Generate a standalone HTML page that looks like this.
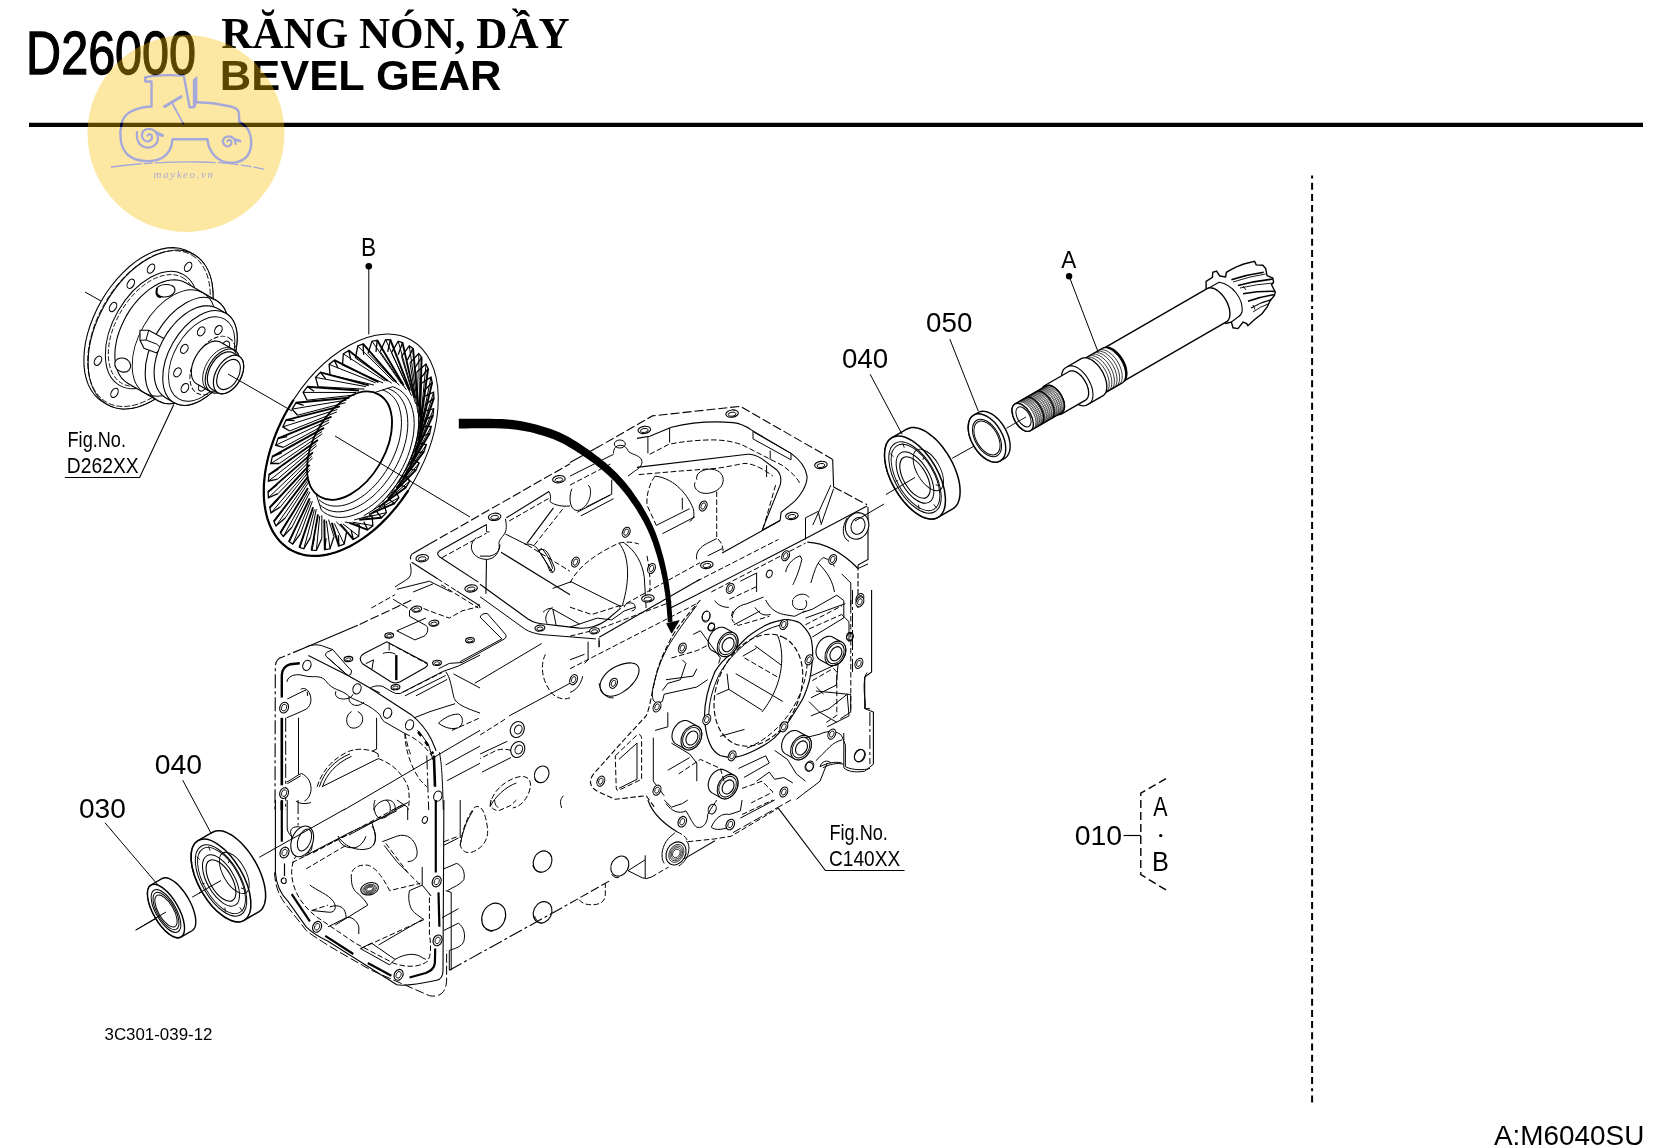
<!DOCTYPE html>
<html><head><meta charset="utf-8"><style>
html,body{margin:0;padding:0;background:#fff;overflow:hidden}
svg{display:block;will-change:transform}
</style></head><body>
<svg width="1658" height="1148" viewBox="0 0 1658 1148">
<line x1="29" y1="124.8" x2="1643" y2="124.8" stroke="#000" stroke-width="4.2"/>
<line x1="1312.1" y1="175.5" x2="1312.1" y2="1104" stroke="#000" stroke-width="2" stroke-dasharray="3 4.2 7 4.2 7 4.2 7 4.2 7 4.2 7 4.2 7 4.2 7 4.2 7 4.2 7 4.2 7 4.2 7 4.2" />
<path d="M85 292 L101 301" fill="none" stroke="#000" stroke-width="1.0"/>
<path d="M103 402 L98.5 398.9 L94.6 395 L91.2 390.3 L88.4 384.9 L86.3 379 L84.8 372.4 L84 365.4 L83.9 357.9 L84.4 350.1 L85.6 342 L87.5 333.8 L90.1 325.5 L93.3 317.2 L97 309 L101.3 301 L106 293.3 L111.3 286 L116.9 279.1 L122.8 272.8 L128.9 267 L135.3 261.9 L141.8 257.5 L148.3 253.9 L154.8 251.1 L161.3 249.1 L167.5 247.9 L173.5 247.6 L179.3 248.2 L184.6 249.7 L189.6 252 L193.9 254.5 L198.4 257.6 L202.3 261.5 L205.7 266.2 L208.5 271.6 L210.6 277.5 L212.1 284.1 L212.9 291.1 L213 298.6 L212.5 306.4 L211.2 314.5 L209.3 322.7 L206.8 331 L203.6 339.3 L199.9 347.5 L195.6 355.5 L190.8 363.2 L185.6 370.5 L180 377.4 L174.1 383.7 L167.9 389.5 L161.6 394.6 L155.1 399 L148.5 402.6 L142 405.4 L135.6 407.4 L129.3 408.6 L123.3 408.9 L117.6 408.3 L112.2 406.8 L107.3 404.5Z" fill="#fff" stroke="#000" stroke-width="1.1"/>
<ellipse cx="150.6" cy="329.5" rx="86.6" ry="52" transform="rotate(-60 150.6 329.5)" fill="#fff" stroke="#000" stroke-width="1.1"/>
<ellipse cx="149" cy="328.6" rx="85" ry="51" transform="rotate(-60 149 328.6)" fill="none" stroke="#000" stroke-width="0.8" stroke-dasharray="6 2"/>
<ellipse cx="151.5" cy="330" rx="64" ry="38.4" transform="rotate(-60 151.5 330)" fill="none" stroke="#000" stroke-width="1.0"/>
<ellipse cx="152.3" cy="330.5" rx="61" ry="36.6" transform="rotate(-60 152.3 330.5)" fill="none" stroke="#000" stroke-width="0.8" stroke-dasharray="5 2"/>
<ellipse cx="188.1" cy="266.9" rx="5" ry="3.2" transform="rotate(-60 188.1 266.9)" fill="#fff" stroke="#000" stroke-width="1.1"/>
<ellipse cx="151" cy="268.6" rx="5" ry="3.2" transform="rotate(-60 151 268.6)" fill="#fff" stroke="#000" stroke-width="1.1"/>
<ellipse cx="130.8" cy="283.8" rx="5" ry="3.2" transform="rotate(-60 130.8 283.8)" fill="#fff" stroke="#000" stroke-width="1.1"/>
<ellipse cx="113" cy="307" rx="5" ry="3.2" transform="rotate(-60 113 307)" fill="#fff" stroke="#000" stroke-width="1.1"/>
<ellipse cx="98" cy="360.7" rx="5" ry="3.2" transform="rotate(-60 98 360.7)" fill="#fff" stroke="#000" stroke-width="1.1"/>
<ellipse cx="114.5" cy="392.9" rx="5" ry="3.2" transform="rotate(-60 114.5 392.9)" fill="#fff" stroke="#000" stroke-width="1.1"/>
<path d="M127.7 383.2 L124.7 381.1 L122 378.5 L119.8 375.4 L117.9 371.8 L116.5 367.8 L115.5 363.4 L114.9 358.7 L114.9 353.7 L115.2 348.4 L116.1 343 L117.3 337.5 L119 332 L121.2 326.4 L123.7 320.9 L126.5 315.6 L129.7 310.4 L133.2 305.5 L137 300.9 L140.9 296.7 L145.1 292.8 L149.3 289.4 L153.7 286.5 L158 284 L162.4 282.1 L166.7 280.8 L170.9 280 L174.9 279.9 L178.8 280.3 L182.4 281.2 L185.7 282.8 L216 300.3 L219 302.4 L221.6 305 L223.9 308.1 L225.7 311.7 L227.2 315.7 L228.1 320.1 L228.7 324.8 L228.8 329.8 L228.4 335.1 L227.6 340.5 L226.3 346 L224.6 351.5 L222.5 357.1 L220 362.6 L217.1 367.9 L213.9 373.1 L210.4 378 L206.7 382.6 L202.7 386.8 L198.6 390.7 L194.3 394.1 L190 397 L185.6 399.5 L181.2 401.4 L176.9 402.7 L172.7 403.5 L168.7 403.6 L164.9 403.2 L161.3 402.3 L158 400.7Z" fill="#fff" stroke="#000" stroke-width="1.1"/>
<ellipse cx="187" cy="350.5" rx="58" ry="34.8" transform="rotate(-60 187 350.5)" fill="#fff" stroke="#000" stroke-width="1.1"/>
<ellipse cx="174" cy="343" rx="58" ry="34.8" transform="rotate(-60 174 343)" fill="none" stroke="#000" stroke-width="0.9"/>
<path d="M157 288 C160 284 170 283 174 287 C177 292 172 297 164 297 C158 297 155 293 157 288Z" fill="#fff" stroke="#000" stroke-width="1.1"/>
<path d="M157 288 L156.5 293 C157 296 159 297 161 297" fill="none" stroke="#000" stroke-width="2.0"/>
<path d="M115 362 C118 356 127 357 130 363 C132 369 128 373 122 372 C117 371 114 367 115 362Z" fill="#fff" stroke="#000" stroke-width="1.1"/>
<path d="M140 330.2 L148.7 330.2 L164.4 338.8 L161.2 348.2 L156.5 352.9 L144 348.2 L140 340.3 Z" fill="#fff" stroke="#000" stroke-width="1.1"/>
<path d="M148.7 330.2 L146 340 L140 340.3 M146 340 L156.5 344 L161.2 348.2" fill="none" stroke="#000" stroke-width="1.0"/>
<path d="M165.5 397.7 L162.8 395.8 L160.5 393.5 L158.5 390.7 L156.8 387.5 L155.6 384 L154.7 380.1 L154.2 375.9 L154.1 371.4 L154.4 366.7 L155.2 361.9 L156.3 357 L157.8 352.1 L159.7 347.1 L161.9 342.3 L164.5 337.5 L167.3 332.9 L170.4 328.6 L173.8 324.5 L177.3 320.7 L181 317.3 L184.8 314.2 L188.6 311.6 L192.5 309.4 L196.4 307.7 L200.2 306.6 L204 305.9 L207.6 305.7 L211 306.1 L214.2 306.9 L217.1 308.3 L225.8 313.3 L228.4 315.2 L230.8 317.5 L232.8 320.3 L234.4 323.5 L235.7 327 L236.6 330.9 L237.1 335.1 L237.2 339.6 L236.8 344.3 L236.1 349.1 L234.9 354 L233.4 358.9 L231.6 363.9 L229.3 368.7 L226.8 373.5 L223.9 378.1 L220.8 382.4 L217.5 386.5 L214 390.3 L210.3 393.7 L206.5 396.8 L202.6 399.4 L198.7 401.6 L194.8 403.3 L191 404.4 L187.3 405.1 L183.7 405.3 L180.3 404.9 L177.1 404.1 L174.2 402.7Z" fill="#fff" stroke="#000" stroke-width="1.1"/>
<ellipse cx="200" cy="358" rx="51.6" ry="31" transform="rotate(-60 200 358)" fill="#fff" stroke="#000" stroke-width="1.1"/>
<ellipse cx="201.7" cy="359" rx="46" ry="27.6" transform="rotate(-60 201.7 359)" fill="none" stroke="#000" stroke-width="0.9"/>
<ellipse cx="218.4" cy="330" rx="4.8" ry="3.4" transform="rotate(-60 218.4 330)" fill="#fff" stroke="#000" stroke-width="1.1"/>
<ellipse cx="201.2" cy="331.4" rx="4.8" ry="3.4" transform="rotate(-60 201.2 331.4)" fill="#fff" stroke="#000" stroke-width="1.1"/>
<ellipse cx="184.3" cy="348.9" rx="4.8" ry="3.4" transform="rotate(-60 184.3 348.9)" fill="#fff" stroke="#000" stroke-width="1.1"/>
<ellipse cx="177.5" cy="372.4" rx="4.8" ry="3.4" transform="rotate(-60 177.5 372.4)" fill="#fff" stroke="#000" stroke-width="1.1"/>
<ellipse cx="184.9" cy="388" rx="4.8" ry="3.4" transform="rotate(-60 184.9 388)" fill="#fff" stroke="#000" stroke-width="1.1"/>
<ellipse cx="202.2" cy="386.6" rx="4.8" ry="3.4" transform="rotate(-60 202.2 386.6)" fill="#fff" stroke="#000" stroke-width="1.1"/>
<ellipse cx="225.8" cy="345.6" rx="4.8" ry="3.4" transform="rotate(-60 225.8 345.6)" fill="#fff" stroke="#000" stroke-width="1.1"/>
<ellipse cx="213" cy="365.5" rx="32" ry="19.2" transform="rotate(-60 213 365.5)" fill="none" stroke="#000" stroke-width="0.9" stroke-dasharray="5 2"/>
<path d="M196.6 383.8 L195.4 382.9 L194.3 381.8 L193.4 380.5 L192.6 379.1 L192 377.4 L191.6 375.6 L191.4 373.6 L191.3 371.6 L191.5 369.4 L191.8 367.2 L192.3 364.9 L193.1 362.6 L193.9 360.3 L195 358 L196.2 355.8 L197.5 353.7 L198.9 351.6 L200.5 349.7 L202.1 348 L203.8 346.4 L205.6 345 L207.4 343.7 L209.2 342.7 L211 342 L212.8 341.4 L214.5 341.1 L216.2 341 L217.8 341.2 L219.3 341.6 L220.6 342.2 L234.5 350.2 L235.7 351.1 L236.8 352.2 L237.7 353.5 L238.5 354.9 L239.1 356.6 L239.5 358.4 L239.7 360.4 L239.8 362.4 L239.6 364.6 L239.3 366.8 L238.8 369.1 L238 371.4 L237.2 373.7 L236.1 376 L234.9 378.2 L233.6 380.3 L232.2 382.4 L230.6 384.3 L229 386 L227.3 387.6 L225.5 389 L223.7 390.3 L221.9 391.3 L220.1 392 L218.3 392.6 L216.6 392.9 L214.9 393 L213.3 392.8 L211.8 392.4 L210.5 391.8Z" fill="#fff" stroke="#000" stroke-width="1.1"/>
<ellipse cx="222.5" cy="371" rx="24" ry="14.4" transform="rotate(-60 222.5 371)" fill="#fff" stroke="#000" stroke-width="1.1"/>
<ellipse cx="219.9" cy="369.5" rx="24" ry="14.4" transform="rotate(-60 219.9 369.5)" fill="none" stroke="#000" stroke-width="0.8"/>
<path d="M212 389.2 L210.9 388.4 L209.9 387.5 L209.1 386.3 L208.4 385.1 L207.9 383.6 L207.6 382 L207.4 380.3 L207.3 378.5 L207.5 376.6 L207.8 374.6 L208.2 372.6 L208.9 370.6 L209.6 368.6 L210.5 366.6 L211.6 364.7 L212.7 362.8 L214 361.1 L215.3 359.4 L216.8 357.8 L218.3 356.5 L219.8 355.2 L221.4 354.1 L223 353.3 L224.6 352.6 L226.1 352.1 L227.6 351.8 L229.1 351.8 L230.5 351.9 L231.8 352.3 L233 352.8 L239 356.3 L240.1 357.1 L241.1 358 L241.9 359.2 L242.6 360.4 L243.1 361.9 L243.4 363.5 L243.6 365.2 L243.7 367 L243.5 368.9 L243.2 370.9 L242.8 372.9 L242.2 374.9 L241.4 376.9 L240.5 378.9 L239.5 380.8 L238.3 382.7 L237 384.4 L235.7 386.1 L234.2 387.7 L232.7 389 L231.2 390.3 L229.6 391.4 L228 392.2 L226.5 392.9 L224.9 393.4 L223.4 393.7 L221.9 393.7 L220.5 393.6 L219.2 393.2 L218 392.7Z" fill="#fff" stroke="#000" stroke-width="1.2"/>
<ellipse cx="228.5" cy="374.5" rx="21" ry="12.6" transform="rotate(-60 228.5 374.5)" fill="#fff" stroke="#000" stroke-width="1.2"/>
<ellipse cx="228.5" cy="374.5" rx="16.5" ry="9.9" transform="rotate(-60 228.5 374.5)" fill="none" stroke="#000" stroke-width="1.1"/>
<path d="M173.8 404.6 L139.6 477.5 L64.8 477.5" fill="none" stroke="#000" stroke-width="1.1"/>
<text x="67.55" y="446.9" font-family="Liberation Sans" font-weight="normal" font-size="21.74" fill="#000" transform="translate(67.55 0) scale(0.834 1) translate(-67.55 0)">Fig.No.</text>
<text x="66.86" y="472.7" font-family="Liberation Sans" font-weight="normal" font-size="22.14" fill="#000" transform="translate(66.86 0) scale(0.871 1) translate(-66.86 0)">D262XX</text>
<ellipse cx="351" cy="445" rx="121" ry="72.6" transform="rotate(-60 351 445)" fill="#fff" stroke="#000" stroke-width="1.0"/>
<path d="M408.4 490.3 L404.8 495.5 L401.2 500.6 L397.4 505.6 L393.4 510.4 L389.4 515 L385.2 519.4 L381 523.6 L376.7 527.6 L372.3 531.3 L367.8 534.8 L363.3 538.1 L358.8 541.1 L354.2 543.9 L349.6 546.4 L345.1 548.6 L340.5 550.5 L336 552.2 L331.5 553.5 L327.1 554.6 L322.7 555.3 L318.5 555.8 L314.3 555.9 L310.2 555.7 L306.2 555.3 L302.3 554.5 L298.6 553.4 L295 552.1 L291.6 550.4 L288.3 548.5 L285.3 546.2 L282.3 543.7 L279.6 540.9 L277.1 537.9 L274.8 534.6 L272.6 531.1 L270.7 527.3 L269.1 523.3 L267.6 519.1 L266.4 514.6 L265.4 510 L264.6 505.2 L264.1 500.3 L263.8 495.2 L263.8 489.9 L263.9 484.5 L264.4 479.1 L265 473.5 L265.9 467.9 L267.1 462.1 L268.4 456.4 L270 450.6 L271.9 444.8 L273.9 439 L276.1 433.2 L278.6 427.4 L281.2 421.7 L284.1 416.1 L287.1 410.5 L290.3 405.1 L293.6 399.7" fill="none" stroke="#000" stroke-width="2.2"/>
<path d="M401.5 356.4 L409.3 345.9 L413 348.4 L407.3 360.3" fill="none" stroke="#000" stroke-width="1.3"/>
<path d="M409.3 345.9 L417.5 403.8" fill="none" stroke="#000" stroke-width="1.0"/>
<path d="M413 348.4 L418.3 406.7" fill="none" stroke="#000" stroke-width="1.9"/>
<path d="M401.5 356.4 L415.6 403.8" fill="none" stroke="#000" stroke-width="1.0"/>
<path d="M410 362.9 L418.7 353.6 L421.6 357.2 L414.6 368.5" fill="none" stroke="#000" stroke-width="1.3"/>
<path d="M418.7 353.6 L419.7 413.7" fill="none" stroke="#000" stroke-width="1.0"/>
<path d="M421.6 357.2 L420 416.9" fill="none" stroke="#000" stroke-width="1.9"/>
<path d="M410 362.9 L418 413.2" fill="none" stroke="#000" stroke-width="1.0"/>
<path d="M416.8 371.9 L426 364.1 L428.1 368.7 L420.1 379" fill="none" stroke="#000" stroke-width="1.3"/>
<path d="M426 364.1 L420.2 424.7" fill="none" stroke="#000" stroke-width="1.0"/>
<path d="M428.1 368.7 L420 428.2" fill="none" stroke="#000" stroke-width="1.9"/>
<path d="M416.8 371.9 L418.8 423.7" fill="none" stroke="#000" stroke-width="1.0"/>
<path d="M421.5 383.2 L431 377.1 L432.2 382.5 L423.4 391.5" fill="none" stroke="#000" stroke-width="1.3"/>
<path d="M431 377.1 L419 436.5" fill="none" stroke="#000" stroke-width="1.0"/>
<path d="M432.2 382.5 L418.3 440.2" fill="none" stroke="#000" stroke-width="1.9"/>
<path d="M421.5 383.2 L417.9 435.2" fill="none" stroke="#000" stroke-width="1.0"/>
<path d="M424.1 396.3 L433.6 392.2 L433.9 398.1 L424.6 405.6" fill="none" stroke="#000" stroke-width="1.3"/>
<path d="M433.6 392.2 L416.2 448.9" fill="none" stroke="#000" stroke-width="1.0"/>
<path d="M433.9 398.1 L415 452.6" fill="none" stroke="#000" stroke-width="1.9"/>
<path d="M424.1 396.3 L415.4 447.2" fill="none" stroke="#000" stroke-width="1.0"/>
<path d="M424.4 410.9 L433.6 408.8 L433 415.3 L423.5 421" fill="none" stroke="#000" stroke-width="1.3"/>
<path d="M433.6 408.8 L411.7 461.3" fill="none" stroke="#000" stroke-width="1.0"/>
<path d="M433 415.3 L410.1 465" fill="none" stroke="#000" stroke-width="1.9"/>
<path d="M424.4 410.9 L411.3 459.3" fill="none" stroke="#000" stroke-width="1.0"/>
<path d="M422.6 426.5 L431.2 426.5 L429.7 433.3 L420.2 437" fill="none" stroke="#000" stroke-width="1.3"/>
<path d="M431.2 426.5 L405.9 473.5" fill="none" stroke="#000" stroke-width="1.0"/>
<path d="M429.7 433.3 L403.8 477.1" fill="none" stroke="#000" stroke-width="1.9"/>
<path d="M422.6 426.5 L405.7 471.2" fill="none" stroke="#000" stroke-width="1.0"/>
<path d="M418.5 442.7 L426.3 444.8 L423.9 451.6 L414.8 453.3" fill="none" stroke="#000" stroke-width="1.3"/>
<path d="M426.3 444.8 L398.7 485.1" fill="none" stroke="#000" stroke-width="1.0"/>
<path d="M423.9 451.6 L396.3 488.4" fill="none" stroke="#000" stroke-width="1.9"/>
<path d="M418.5 442.7 L398.9 482.6" fill="none" stroke="#000" stroke-width="1.0"/>
<path d="M412.4 459 L419.2 463.1 L416 469.8 L407.4 469.4" fill="none" stroke="#000" stroke-width="1.3"/>
<path d="M419.2 463.1 L390.5 495.6" fill="none" stroke="#000" stroke-width="1.0"/>
<path d="M416 469.8 L387.9 498.6" fill="none" stroke="#000" stroke-width="1.9"/>
<path d="M412.4 459 L391.1 493.1" fill="none" stroke="#000" stroke-width="1.0"/>
<path d="M404.4 474.8 L409.9 480.9 L406.1 487.2 L398.4 484.7" fill="none" stroke="#000" stroke-width="1.3"/>
<path d="M409.9 480.9 L381.5 504.9" fill="none" stroke="#000" stroke-width="1.0"/>
<path d="M406.1 487.2 L378.6 507.3" fill="none" stroke="#000" stroke-width="1.9"/>
<path d="M404.4 474.8 L382.4 502.3" fill="none" stroke="#000" stroke-width="1.0"/>
<path d="M394.9 489.8 L398.9 497.6 L394.5 503.3 L387.9 498.8" fill="none" stroke="#000" stroke-width="1.3"/>
<path d="M398.9 497.6 L371.9 512.5" fill="none" stroke="#000" stroke-width="1.0"/>
<path d="M394.5 503.3 L369 514.5" fill="none" stroke="#000" stroke-width="1.9"/>
<path d="M394.9 489.8 L373.1 510" fill="none" stroke="#000" stroke-width="1.0"/>
<path d="M383.9 503.3 L386.4 512.6 L381.5 517.7 L376.3 511.2" fill="none" stroke="#000" stroke-width="1.3"/>
<path d="M386.4 512.6 L362.1 518.4" fill="none" stroke="#000" stroke-width="1.0"/>
<path d="M381.5 517.7 L359.2 519.7" fill="none" stroke="#000" stroke-width="1.9"/>
<path d="M383.9 503.3 L363.6 515.9" fill="none" stroke="#000" stroke-width="1.0"/>
<path d="M372 515.1 L372.9 525.6 L367.7 529.8 L363.9 521.7" fill="none" stroke="#000" stroke-width="1.3"/>
<path d="M372.9 525.6 L352.4 522.2" fill="none" stroke="#000" stroke-width="1.0"/>
<path d="M367.7 529.8 L349.5 522.9" fill="none" stroke="#000" stroke-width="1.9"/>
<path d="M372 515.1 L354.1 520" fill="none" stroke="#000" stroke-width="1.0"/>
<path d="M359.5 524.8 L358.7 536.2 L353.3 539.4 L351.1 529.8" fill="none" stroke="#000" stroke-width="1.3"/>
<path d="M358.7 536.2 L343 523.9" fill="none" stroke="#000" stroke-width="1.0"/>
<path d="M353.3 539.4 L340.3 524" fill="none" stroke="#000" stroke-width="1.9"/>
<path d="M359.5 524.8 L344.9 522" fill="none" stroke="#000" stroke-width="1.0"/>
<path d="M346.6 532 L344.2 544 L338.9 546.1 L338.4 535.3" fill="none" stroke="#000" stroke-width="1.3"/>
<path d="M344.2 544 L334.3 523.4" fill="none" stroke="#000" stroke-width="1.0"/>
<path d="M338.9 546.1 L331.8 522.9" fill="none" stroke="#000" stroke-width="1.9"/>
<path d="M346.6 532 L336.3 521.8" fill="none" stroke="#000" stroke-width="1.0"/>
<path d="M334 536.6 L330 548.8 L324.8 549.7 L326 538.1" fill="none" stroke="#000" stroke-width="1.3"/>
<path d="M330 548.8 L326.4 520.8" fill="none" stroke="#000" stroke-width="1.0"/>
<path d="M324.8 549.7 L324.3 519.6" fill="none" stroke="#000" stroke-width="1.9"/>
<path d="M334 536.6 L328.5 519.6" fill="none" stroke="#000" stroke-width="1.0"/>
<path d="M321.8 538.5 L316.4 550.4 L311.6 550.2 L314.3 538.1" fill="none" stroke="#000" stroke-width="1.3"/>
<path d="M316.4 550.4 L319.7 516.1" fill="none" stroke="#000" stroke-width="1.0"/>
<path d="M311.6 550.2 L318 514.3" fill="none" stroke="#000" stroke-width="1.9"/>
<path d="M321.8 538.5 L321.8 515.3" fill="none" stroke="#000" stroke-width="1.0"/>
<path d="M310.5 537.4 L303.8 548.8 L299.5 547.4 L303.8 535.3" fill="none" stroke="#000" stroke-width="1.3"/>
<path d="M303.8 548.8 L314.4 509.5" fill="none" stroke="#000" stroke-width="1.0"/>
<path d="M299.5 547.4 L313.1 507.2" fill="none" stroke="#000" stroke-width="1.9"/>
<path d="M310.5 537.4 L316.3 509.1" fill="none" stroke="#000" stroke-width="1.0"/>
<path d="M300.5 533.6 L292.7 544.1 L289 541.6 L294.7 529.7" fill="none" stroke="#000" stroke-width="1.3"/>
<path d="M292.7 544.1 L310.5 501.2" fill="none" stroke="#000" stroke-width="1.0"/>
<path d="M289 541.6 L309.7 498.3" fill="none" stroke="#000" stroke-width="1.9"/>
<path d="M300.5 533.6 L312.4 501.2" fill="none" stroke="#000" stroke-width="1.0"/>
<path d="M292 527.1 L283.3 536.4 L280.4 532.8 L287.4 521.5" fill="none" stroke="#000" stroke-width="1.3"/>
<path d="M283.3 536.4 L308.3 491.3" fill="none" stroke="#000" stroke-width="1.0"/>
<path d="M280.4 532.8 L308 488.1" fill="none" stroke="#000" stroke-width="1.9"/>
<path d="M292 527.1 L310 491.8" fill="none" stroke="#000" stroke-width="1.0"/>
<path d="M285.2 518.1 L276 525.9 L273.9 521.3 L281.9 511" fill="none" stroke="#000" stroke-width="1.3"/>
<path d="M276 525.9 L307.8 480.3" fill="none" stroke="#000" stroke-width="1.0"/>
<path d="M273.9 521.3 L307.9 476.8" fill="none" stroke="#000" stroke-width="1.9"/>
<path d="M285.2 518.1 L309.2 481.3" fill="none" stroke="#000" stroke-width="1.0"/>
<path d="M280.5 506.8 L271 512.9 L269.8 507.5 L278.6 498.5" fill="none" stroke="#000" stroke-width="1.3"/>
<path d="M271 512.9 L309 468.5" fill="none" stroke="#000" stroke-width="1.0"/>
<path d="M269.8 507.5 L309.6 464.8" fill="none" stroke="#000" stroke-width="1.9"/>
<path d="M280.5 506.8 L310.1 469.8" fill="none" stroke="#000" stroke-width="1.0"/>
<path d="M277.9 493.7 L268.4 497.8 L268.1 491.9 L277.4 484.4" fill="none" stroke="#000" stroke-width="1.3"/>
<path d="M268.4 497.8 L311.8 456.1" fill="none" stroke="#000" stroke-width="1.0"/>
<path d="M268.1 491.9 L313 452.4" fill="none" stroke="#000" stroke-width="1.9"/>
<path d="M277.9 493.7 L312.6 457.8" fill="none" stroke="#000" stroke-width="1.0"/>
<path d="M277.6 479.1 L268.4 481.2 L269 474.7 L278.5 469" fill="none" stroke="#000" stroke-width="1.3"/>
<path d="M268.4 481.2 L316.2 443.7" fill="none" stroke="#000" stroke-width="1.0"/>
<path d="M269 474.7 L317.9 440" fill="none" stroke="#000" stroke-width="1.9"/>
<path d="M277.6 479.1 L316.7 445.7" fill="none" stroke="#000" stroke-width="1.0"/>
<path d="M279.4 463.5 L270.8 463.5 L272.3 456.7 L281.8 453" fill="none" stroke="#000" stroke-width="1.3"/>
<path d="M270.8 463.5 L322.1 431.5" fill="none" stroke="#000" stroke-width="1.0"/>
<path d="M272.3 456.7 L324.1 427.9" fill="none" stroke="#000" stroke-width="1.9"/>
<path d="M279.4 463.5 L322.3 433.8" fill="none" stroke="#000" stroke-width="1.0"/>
<path d="M283.5 447.3 L275.7 445.2 L278.1 438.4 L287.2 436.7" fill="none" stroke="#000" stroke-width="1.3"/>
<path d="M275.7 445.2 L329.3 419.9" fill="none" stroke="#000" stroke-width="1.0"/>
<path d="M278.1 438.4 L331.6 416.6" fill="none" stroke="#000" stroke-width="1.9"/>
<path d="M283.5 447.3 L329.1 422.4" fill="none" stroke="#000" stroke-width="1.0"/>
<path d="M289.6 431 L282.8 426.9 L286 420.2 L294.6 420.6" fill="none" stroke="#000" stroke-width="1.3"/>
<path d="M282.8 426.9 L337.5 409.4" fill="none" stroke="#000" stroke-width="1.0"/>
<path d="M286 420.2 L340.1 406.4" fill="none" stroke="#000" stroke-width="1.9"/>
<path d="M289.6 431 L336.9 411.9" fill="none" stroke="#000" stroke-width="1.0"/>
<path d="M297.6 415.2 L292.1 409.1 L295.9 402.8 L303.6 405.3" fill="none" stroke="#000" stroke-width="1.3"/>
<path d="M292.1 409.1 L346.5 400.1" fill="none" stroke="#000" stroke-width="1.0"/>
<path d="M295.9 402.8 L349.3 397.7" fill="none" stroke="#000" stroke-width="1.9"/>
<path d="M297.6 415.2 L345.6 402.7" fill="none" stroke="#000" stroke-width="1.0"/>
<path d="M307.1 400.2 L303.1 392.4 L307.5 386.7 L314.1 391.2" fill="none" stroke="#000" stroke-width="1.3"/>
<path d="M303.1 392.4 L356.1 392.5" fill="none" stroke="#000" stroke-width="1.0"/>
<path d="M307.5 386.7 L359 390.5" fill="none" stroke="#000" stroke-width="1.9"/>
<path d="M307.1 400.2 L354.8 395" fill="none" stroke="#000" stroke-width="1.0"/>
<path d="M318.1 386.7 L315.6 377.4 L320.5 372.3 L325.7 378.8" fill="none" stroke="#000" stroke-width="1.3"/>
<path d="M315.6 377.4 L365.9 386.6" fill="none" stroke="#000" stroke-width="1.0"/>
<path d="M320.5 372.3 L368.8 385.3" fill="none" stroke="#000" stroke-width="1.9"/>
<path d="M318.1 386.7 L364.4 389.1" fill="none" stroke="#000" stroke-width="1.0"/>
<path d="M330 374.9 L329.1 364.4 L334.3 360.2 L338.1 368.3" fill="none" stroke="#000" stroke-width="1.3"/>
<path d="M329.1 364.4 L375.6 382.8" fill="none" stroke="#000" stroke-width="1.0"/>
<path d="M334.3 360.2 L378.5 382.1" fill="none" stroke="#000" stroke-width="1.9"/>
<path d="M330 374.9 L373.9 385" fill="none" stroke="#000" stroke-width="1.0"/>
<path d="M342.5 365.2 L343.3 353.8 L348.7 350.6 L350.9 360.2" fill="none" stroke="#000" stroke-width="1.3"/>
<path d="M343.3 353.8 L385 381.1" fill="none" stroke="#000" stroke-width="1.0"/>
<path d="M348.7 350.6 L387.7 381" fill="none" stroke="#000" stroke-width="1.9"/>
<path d="M342.5 365.2 L383.1 383" fill="none" stroke="#000" stroke-width="1.0"/>
<path d="M355.4 358 L357.8 346 L363.1 343.9 L363.6 354.7" fill="none" stroke="#000" stroke-width="1.3"/>
<path d="M357.8 346 L393.7 381.6" fill="none" stroke="#000" stroke-width="1.0"/>
<path d="M363.1 343.9 L396.2 382.1" fill="none" stroke="#000" stroke-width="1.9"/>
<path d="M355.4 358 L391.7 383.2" fill="none" stroke="#000" stroke-width="1.0"/>
<path d="M368 353.4 L372 341.2 L377.2 340.3 L376 351.9" fill="none" stroke="#000" stroke-width="1.3"/>
<path d="M372 341.2 L401.6 384.2" fill="none" stroke="#000" stroke-width="1.0"/>
<path d="M377.2 340.3 L403.7 385.4" fill="none" stroke="#000" stroke-width="1.9"/>
<path d="M368 353.4 L399.5 385.4" fill="none" stroke="#000" stroke-width="1.0"/>
<path d="M380.2 351.5 L385.6 339.6 L390.4 339.8 L387.7 351.9" fill="none" stroke="#000" stroke-width="1.3"/>
<path d="M385.6 339.6 L408.3 388.9" fill="none" stroke="#000" stroke-width="1.0"/>
<path d="M390.4 339.8 L410 390.7" fill="none" stroke="#000" stroke-width="1.9"/>
<path d="M380.2 351.5 L406.2 389.7" fill="none" stroke="#000" stroke-width="1.0"/>
<path d="M391.5 352.6 L398.2 341.2 L402.5 342.6 L398.2 354.7" fill="none" stroke="#000" stroke-width="1.3"/>
<path d="M398.2 341.2 L413.6 395.5" fill="none" stroke="#000" stroke-width="1.0"/>
<path d="M402.5 342.6 L414.9 397.8" fill="none" stroke="#000" stroke-width="1.9"/>
<path d="M391.5 352.6 L411.6 395.9" fill="none" stroke="#000" stroke-width="1.0"/>
<path d="M392.7 386.7 L396.2 388.1 L399.4 389.9 L402.4 392.1 L405 394.8 L407.4 397.8 L409.4 401.3 L411.1 405.2 L412.4 409.4 L413.4 413.8 L414 418.6 L414.2 423.6 L414 428.8 L413.5 434.2 L412.5 439.7 L411.2 445.3 L409.6 450.9 L407.6 456.6 L405.3 462.2 L402.6 467.7 L399.7 473.1 L396.5 478.3 L393 483.4 L389.3 488.2 L385.4 492.8 L381.4 497 L377.2 500.9 L372.9 504.5 L368.5 507.6 L364.1 510.4 L359.6 512.7 L355.2 514.6 L350.8 516 L346.6 517 L342.4 517.4 L338.4 517.4 L334.5 516.9 L330.9 515.9 L327.5 514.5 L324.3 512.6 L321.4 510.2 L316 493.8 L318.4 495.8 L321 497.3 L323.8 498.5 L326.8 499.3 L329.9 499.7 L333.2 499.7 L336.6 499.3 L340.1 498.6 L343.7 497.4 L347.3 495.9 L351 494 L354.6 491.7 L358.2 489.1 L361.7 486.2 L365.2 483 L368.5 479.5 L371.7 475.8 L374.7 471.8 L377.5 467.7 L380.2 463.4 L382.6 459 L384.7 454.4 L386.6 449.9 L388.3 445.2 L389.6 440.6 L390.7 436 L391.4 431.5 L391.9 427.1 L392 422.9 L391.9 418.7 L391.4 414.8 L390.6 411.2 L389.5 407.7 L388.2 404.6 L386.5 401.7 L384.6 399.2 L382.4 397 L379.9 395.2 L377.3 393.7 L374.4 392.6Z" fill="#fff" stroke="#000" stroke-width="1.0"/>
<path d="M387.5 388.3 L390.8 389.6 L393.9 391.3 L396.7 393.4 L399.2 395.9 L401.4 398.8 L403.3 402.1 L404.9 405.7 L406.2 409.7 L407.1 413.9 L407.6 418.4 L407.8 423.2 L407.7 428.1 L407.1 433.2 L406.3 438.4 L405 443.6 L403.5 449 L401.6 454.3 L399.4 459.6 L396.9 464.8 L394.1 469.9 L391.1 474.9 L387.8 479.6 L384.3 484.2 L380.7 488.5 L376.8 492.5 L372.9 496.2 L368.8 499.5 L364.7 502.5 L360.5 505.1 L356.3 507.3 L352.1 509.1 L348 510.4 L344 511.3 L340 511.8 L336.2 511.8 L332.6 511.3 L329.1 510.4 L325.9 509 L322.9 507.2 L320.2 505" fill="none" stroke="#000" stroke-width="1.0"/>
<path d="M382.4 389.9 L385.5 391.1 L388.4 392.7 L391 394.7 L393.4 397.1 L395.5 399.8 L397.3 402.9 L398.8 406.3 L399.9 410 L400.8 414 L401.3 418.3 L401.5 422.7 L401.3 427.3 L400.8 432.1 L400 437 L398.9 442 L397.4 447 L395.6 452 L393.5 457 L391.2 461.9 L388.6 466.7 L385.7 471.4 L382.7 475.9 L379.4 480.1 L375.9 484.2 L372.3 488 L368.6 491.4 L364.8 494.6 L360.9 497.4 L356.9 499.9 L353 501.9 L349.1 503.6 L345.2 504.9 L341.4 505.7 L337.7 506.1 L334.1 506.1 L330.7 505.7 L327.4 504.8 L324.4 503.5 L321.6 501.8 L319 499.7" fill="none" stroke="#000" stroke-width="1.0"/>
<ellipse cx="349.5" cy="445.7" rx="59" ry="35.4" transform="rotate(-60 349.5 445.7)" fill="none" stroke="#000" stroke-width="1.8"/>
<path d="M368.8 266 L368.8 334.4" fill="none" stroke="#000" stroke-width="1.0"/>
<circle cx="368.8" cy="266.2" r="3.3" fill="#000"/>
<text x="360.99" y="256.5" font-family="Liberation Sans" font-weight="normal" font-size="26.23" fill="#000" transform="translate(360.99 0) scale(0.863 1) translate(-360.99 0)">B</text>
<path d="M228 374 L292 411" fill="none" stroke="#000" stroke-width="1.0"/>
<path d="M335 436 L470 517" fill="none" stroke="#000" stroke-width="1.0"/>
<path d="M412.9 553.4 L429.4 544" fill="none" stroke="#000" stroke-width="1.1"/>
<path d="M429.4 544 L570 463.8" fill="none" stroke="#000" stroke-width="1.1" stroke-dasharray="9 3"/>
<path d="M 412.9 553.4 Q 409.9 555.4 410.6 559.4" fill="none" stroke="#000" stroke-width="1.1"/>
<path d="M 410.2 563.6 C 410.9 568.5 412.2 573 409.1 577.7 C 405 581.2 399 583.9 395 587" fill="none" stroke="#000" stroke-width="1.0"/>
<path d="M411.7 562.3 L437.6 578.8" fill="none" stroke="#000" stroke-width="1.1"/>
<path d="M437.6 578.8 L456.6 590.9" fill="none" stroke="#000" stroke-width="1.0" stroke-dasharray="5.5 2.5"/>
<path d="M456.6 590.9 L479.1 605.4 L480.1 608" fill="none" stroke="#000" stroke-width="1.1"/>
<path d="M441.2 584.8 L478.3 608" fill="none" stroke="#000" stroke-width="1.0" stroke-dasharray="5.5 2.5"/>
<path d="M 438.8 551.3 Q 436.3 554 439.4 556.7 L 478.3 582.1" fill="none" stroke="#000" stroke-width="1.1"/>
<path d="M438.8 551.3 L486.5 524.6" fill="none" stroke="#000" stroke-width="1.1"/>
<path d="M486.5 524.6 L486.5 531.9 L489.6 531.9" fill="none" stroke="#000" stroke-width="0.9"/>
<path d="M442.1 557.6 L486.5 533.2" fill="none" stroke="#000" stroke-width="1.0" stroke-dasharray="5.5 2.5"/>
<path d="M 505.5 518.7 C 506.4 525 507.3 530.4 503.7 535 C 500.1 539.5 498.3 541.3 499.2 544.9 C 499.7 552.2 494.6 559.4 486.5 559.4 C 478.3 559.4 471.4 554 471.4 547.1 C 471.4 543.1 472.9 540.4 476.5 537.7" fill="none" stroke="#000" stroke-width="1.0"/>
<path d="M486.5 559.4 L485.9 593.8" fill="none" stroke="#000" stroke-width="1.1"/>
<path d="M506.4 517.8 L549 491.5" fill="none" stroke="#000" stroke-width="1.1"/>
<path d="M509.1 521 L549.9 497.8" fill="none" stroke="#000" stroke-width="1.0" stroke-dasharray="5.5 2.5"/>
<path d="M 549 491.5 C 550.4 494.2 551.2 497.8 549.9 501.4 C 552.6 504.2 559.9 506.9 570 506" fill="none" stroke="#000" stroke-width="1.0"/>
<path d="M501 552.2 L570 594.7" fill="none" stroke="#000" stroke-width="1.1"/>
<path d="M505.5 534.1 L527.2 544.9" fill="none" stroke="#000" stroke-width="1.0"/>
<path d="M527.2 544.9 L570 571.2" fill="none" stroke="#000" stroke-width="1.0" stroke-dasharray="5.5 2.5"/>
<path d="M527.2 543.1 L553.5 507.8" fill="none" stroke="#000" stroke-width="1.1"/>
<path d="M534.5 544.9 L564.4 506.9" fill="none" stroke="#000" stroke-width="1.0" stroke-dasharray="5.5 2.5"/>
<path d="M 538.1 550.4 L 541.7 548.6 C 545.4 552.2 549.9 559.4 552.6 568.5 L 549.9 571.2 C 547.2 563 542.6 555.8 538.1 550.4 Z" fill="none" stroke="#000" stroke-width="1.0"/>
<path d="M552.6 588.4 L570 582.1" fill="none" stroke="#000" stroke-width="1.0"/>
<path d="M396.8 589.3 L429.4 581.2 L451.2 592" fill="none" stroke="#000" stroke-width="1.0"/>
<path d="M413.1 592 L433 583.9" fill="none" stroke="#000" stroke-width="1.0"/>
<path d="M371.4 608 L395 594.7" fill="none" stroke="#000" stroke-width="1.0" stroke-dasharray="5.5 2.5"/>
<path d="M393.2 599.3 L407.7 608" fill="none" stroke="#000" stroke-width="1.0"/>
<ellipse cx="422.2" cy="558.2" rx="6.3" ry="3.6" transform="rotate(-8 422.2 558.2)" fill="#fff" stroke="#000" stroke-width="1.1"/>
<ellipse cx="422.2" cy="558.8" rx="3.9" ry="2" transform="rotate(-8 422.2 558.8)" fill="none" stroke="#000" stroke-width="0.9"/>
<ellipse cx="494.6" cy="516.8" rx="6.3" ry="3.6" transform="rotate(-8 494.6 516.8)" fill="#fff" stroke="#000" stroke-width="1.1"/>
<ellipse cx="494.6" cy="517.4" rx="3.9" ry="2" transform="rotate(-8 494.6 517.4)" fill="none" stroke="#000" stroke-width="0.9"/>
<ellipse cx="558.9" cy="479.2" rx="6.3" ry="3.6" transform="rotate(-8 558.9 479.2)" fill="#fff" stroke="#000" stroke-width="1.1"/>
<ellipse cx="558.9" cy="479.8" rx="3.9" ry="2" transform="rotate(-8 558.9 479.8)" fill="none" stroke="#000" stroke-width="0.9"/>
<ellipse cx="471.1" cy="588.4" rx="6.3" ry="3.6" transform="rotate(-8 471.1 588.4)" fill="#fff" stroke="#000" stroke-width="1.1"/>
<ellipse cx="471.1" cy="589" rx="3.9" ry="2" transform="rotate(-8 471.1 589)" fill="none" stroke="#000" stroke-width="0.9"/>
<path d="M570 462.5 L595.4 448.6" fill="none" stroke="#000" stroke-width="1.1"/>
<path d="M595.4 448.6 L652.4 415.9 L740.3 406.3 L832.7 459.4" fill="none" stroke="#000" stroke-width="1.1" stroke-dasharray="9 3"/>
<path d="M832.7 459.4 L833.6 487" fill="none" stroke="#000" stroke-width="1.1"/>
<path d="M833.6 487 L867.1 504.7" fill="none" stroke="#000" stroke-width="1.1" stroke-dasharray="9 3"/>
<path d="M868 506.9 L868 559.4 L858 564.9" fill="none" stroke="#000" stroke-width="1.1"/>
<path d="M858 564.9 L858 608" fill="none" stroke="#000" stroke-width="1.1" stroke-dasharray="5.5 2.5"/>
<path d="M 637 438.4 L 649.7 436.2 L 671.4 427.2 C 687.8 423.2 711.3 420.8 733 422.6 C 742.1 423.6 747.5 427.2 751.2 429.9 L 791 453.4 C 800.1 459.8 805.5 467 807 476.1 C 807.7 485.1 800.1 496 794.6 501.4 L 781.1 512.3 L 780.1 520.5" fill="none" stroke="#000" stroke-width="1.1"/>
<path d="M 649.7 454.3 L 668.7 444.4 C 682.3 441.3 700.4 439.9 713.1 439.9 C 725.8 439.9 736.7 442.6 743 445.3 L 782 465.2 C 791 471.6 797.4 477.9 799.7 483.3" fill="none" stroke="#000" stroke-width="1.0" stroke-dasharray="5.5 2.5"/>
<path d="M 637 467.4 L 747.5 454.3 C 753 454 758.4 456.5 762 458.9 L 776.5 469.7 C 781.1 474.3 781.6 479.7 780.1 485.1 L 762 530.4" fill="none" stroke="#000" stroke-width="1.1"/>
<path d="M 638.8 474.6 L 680.5 471 L 714.9 468.5 C 727.6 467 738.5 464.3 743.9 463.4 C 754.8 463.4 765.7 470.7 772.9 476.1" fill="none" stroke="#000" stroke-width="1.0" stroke-dasharray="5.5 2.5"/>
<path d="M762 530.4 L780.1 520.5" fill="none" stroke="#000" stroke-width="1.1"/>
<path d="M775.6 485.1 L762.9 529.5" fill="none" stroke="#000" stroke-width="1.0" stroke-dasharray="5.5 2.5"/>
<path d="M669.6 428.1 L669.6 442.6" fill="none" stroke="#000" stroke-width="1.0"/>
<path d="M647.9 437.1 L647.9 453.4" fill="none" stroke="#000" stroke-width="1.0"/>
<path d="M770.2 450.7 L770.2 459.8" fill="none" stroke="#000" stroke-width="1.0"/>
<path d="M766.6 465.2 L766.6 477" fill="none" stroke="#000" stroke-width="1.0"/>
<path d="M753 430.8 L753 438.9 L791 459.8 L791 453.4 L753.9 432.2" fill="none" stroke="#000" stroke-width="1.0"/>
<path d="M 613.5 453.4 C 613.5 448.9 615.3 445.3 620.7 445.3 C 624.3 445.3 626.2 447.1 628 450.7 C 629.8 454.3 638.8 454.3 641.6 459.8 C 643.4 464.3 638.8 468.8 635.2 470.7 L 628 476.1" fill="none" stroke="#000" stroke-width="1.0"/>
<ellipse cx="619.8" cy="444" rx="5.5" ry="4" fill="none" stroke="#000" stroke-width="1.0"/>
<path d="M 570 476.1 L 613.5 454.3" fill="none" stroke="#000" stroke-width="1.0"/>
<path d="M 570 485.1 L 611.7 463.4" fill="none" stroke="#000" stroke-width="1.0" stroke-dasharray="5.5 2.5"/>
<path d="M 577.2 512.3 L 611.7 494.2 L 611.7 479.7" fill="none" stroke="#000" stroke-width="1.0"/>
<path d="M 588.1 485.1 C 593.6 488.8 589.9 508.7 577.2 510.5 C 570 510.5 568.2 497.8 571.8 488.8" fill="none" stroke="#000" stroke-width="1.0"/>
<path d="M 586.3 506.9 L 609.9 495.1" fill="none" stroke="#000" stroke-width="1.0"/>
<path d="M 580.9 515.9 L 613.5 498.7" fill="none" stroke="#000" stroke-width="1.0"/>
<path d="M 696.8 479.7 C 695 472.5 704.1 468.8 711.3 469.2 C 720.4 469.7 724 476.1 723.1 481.5 C 722.2 488.8 713.1 494.2 704.1 493.3 C 696.8 492.4 693.2 487 695 482.4" fill="none" stroke="#000" stroke-width="1.0"/>
<path d="M 716.7 491.5 L 716.7 537.7 C 720.4 541.3 723.1 544.9 723.1 552.2" fill="none" stroke="#000" stroke-width="1.0" stroke-dasharray="5.5 2.5"/>
<path d="M 655.1 476.1 C 671.4 477.9 685.9 490.6 693.2 508.7 C 695 515.9 693.2 519.6 689.6 521.4" fill="none" stroke="#000" stroke-width="1.0"/>
<path d="M 655.1 476.1 C 649.7 483.3 646.1 494.2 647 505.1 L 657 526.8" fill="none" stroke="#000" stroke-width="1.0" stroke-dasharray="5.5 2.5"/>
<path d="M657 525 L689.6 508.7" fill="none" stroke="#000" stroke-width="1.0"/>
<path d="M662.4 533.7 L695 516.8" fill="none" stroke="#000" stroke-width="1.0"/>
<path d="M682.3 497.8 L682.3 509.6" fill="none" stroke="#000" stroke-width="1.0"/>
<path d="M 696.8 559.4 C 695 552.2 700.4 546.7 707.7 543.1 L 716.7 538.6" fill="none" stroke="#000" stroke-width="1.0"/>
<path d="M 707.7 555.8 L 722.2 548.6" fill="none" stroke="#000" stroke-width="1.0"/>
<path d="M722.2 553.1 L780.1 520.5" fill="none" stroke="#000" stroke-width="1.1"/>
<path d="M 570 583 C 577.2 568.5 591.7 555.8 618.9 543.1 C 628 541.3 633.4 542.2 638.8 544" fill="none" stroke="#000" stroke-width="1.0" stroke-dasharray="5.5 2.5"/>
<path d="M 624.3 543.1 C 635.2 550.4 642.5 563 644.3 577.5 L 646.1 608" fill="none" stroke="#000" stroke-width="1.0"/>
<path d="M 618.9 543.1 C 629.8 555.8 629.8 581.2 622.5 604.7" fill="none" stroke="#000" stroke-width="1.0"/>
<path d="M 647 555.8 C 649.7 570.3 650.6 581.2 649.7 592" fill="none" stroke="#000" stroke-width="1.0" stroke-dasharray="5.5 2.5"/>
<path d="M570 581.2 L620.7 606.5" fill="none" stroke="#000" stroke-width="1.0"/>
<path d="M670.5 608 L696.8 594.7" fill="none" stroke="#000" stroke-width="1.1"/>
<path d="M696.8 594.7 L803.7 539.5 L867.1 506" fill="none" stroke="#000" stroke-width="1.1"/>
<path d="M711.3 592 L805.5 543.1" fill="none" stroke="#000" stroke-width="1.0" stroke-dasharray="5.5 2.5"/>
<path d="M696.8 581.2 L778.3 539.5" fill="none" stroke="#000" stroke-width="1.0" stroke-dasharray="5.5 2.5"/>
<path d="M805.5 517.8 L805.5 539.5" fill="none" stroke="#000" stroke-width="1.0"/>
<path d="M805.5 517.8 L818.2 511.4 L820.9 523.2" fill="none" stroke="#000" stroke-width="1.0"/>
<path d="M820.9 525 L833.6 488.8" fill="none" stroke="#000" stroke-width="1.0"/>
<path d="M812.8 525 L830.9 485.1" fill="none" stroke="#000" stroke-width="1.0"/>
<ellipse cx="857.1" cy="525.9" rx="11.5" ry="13.5" transform="rotate(20 857.1 525.9)" fill="#fff" stroke="#000" stroke-width="1.1"/>
<ellipse cx="858" cy="525.9" rx="6.8" ry="8.6" transform="rotate(20 858 525.9)" fill="none" stroke="#000" stroke-width="1.0"/>
<path d="M 847.2 517.8 C 841.7 526.8 841.7 537.7 849 541.3" fill="none" stroke="#000" stroke-width="1.0"/>
<path d="M 807.3 542.2 C 827.2 543.1 845.4 555.8 858 568.5" fill="none" stroke="#000" stroke-width="1.3"/>
<path d="M 858 568.5 L 868 563.9" fill="none" stroke="#000" stroke-width="1.0"/>
<path d="M 785.6 572.1 C 787.4 563 794.6 557.6 800.1 555.8 L 801.9 559.4 C 798.3 573.9 794.6 581.2 792.8 584.8" fill="none" stroke="#000" stroke-width="1.0"/>
<path d="M 810.9 583 C 816.4 563 820 559.4 823.6 557.6 C 829.1 559.4 832.7 563 834.5 566.7" fill="none" stroke="#000" stroke-width="1.0"/>
<path d="M 818.2 563 C 827.2 572.1 832.7 581.2 834.5 592" fill="none" stroke="#000" stroke-width="1.0"/>
<path d="M 841.7 573.9 L 850.8 583 L 850.8 608" fill="none" stroke="#000" stroke-width="1.0"/>
<path d="M 740.3 581.2 L 756.6 573 L 756.6 592" fill="none" stroke="#000" stroke-width="1.0"/>
<path d="M 729.4 599.3 L 756.6 586.6" fill="none" stroke="#000" stroke-width="1.0" stroke-dasharray="5.5 2.5"/>
<ellipse cx="769.3" cy="573.9" rx="2.8" ry="3.8" transform="rotate(20 769.3 573.9)" fill="none" stroke="#000" stroke-width="1.0"/>
<path d="M 792.8 599.3 C 796.4 593.8 805.5 592 809.1 597.5" fill="none" stroke="#000" stroke-width="1.0"/>
<ellipse cx="644.3" cy="429.9" rx="6.3" ry="3.6" transform="rotate(-8 644.3 429.9)" fill="#fff" stroke="#000" stroke-width="1.1"/>
<ellipse cx="644.3" cy="430.5" rx="3.9" ry="2" transform="rotate(-8 644.3 430.5)" fill="none" stroke="#000" stroke-width="0.9"/>
<ellipse cx="732.1" cy="413.6" rx="6.3" ry="3.6" transform="rotate(-8 732.1 413.6)" fill="#fff" stroke="#000" stroke-width="1.1"/>
<ellipse cx="732.1" cy="414.2" rx="3.9" ry="2" transform="rotate(-8 732.1 414.2)" fill="none" stroke="#000" stroke-width="0.9"/>
<ellipse cx="820.9" cy="464.9" rx="6.3" ry="3.6" transform="rotate(-8 820.9 464.9)" fill="#fff" stroke="#000" stroke-width="1.1"/>
<ellipse cx="820.9" cy="465.5" rx="3.9" ry="2" transform="rotate(-8 820.9 465.5)" fill="none" stroke="#000" stroke-width="0.9"/>
<ellipse cx="791.9" cy="515.9" rx="6.3" ry="3.6" transform="rotate(-8 791.9 515.9)" fill="#fff" stroke="#000" stroke-width="1.1"/>
<ellipse cx="791.9" cy="516.5" rx="3.9" ry="2" transform="rotate(-8 791.9 516.5)" fill="none" stroke="#000" stroke-width="0.9"/>
<ellipse cx="706.8" cy="564.9" rx="6.3" ry="3.6" transform="rotate(-8 706.8 564.9)" fill="#fff" stroke="#000" stroke-width="1.1"/>
<ellipse cx="706.8" cy="565.5" rx="3.9" ry="2" transform="rotate(-8 706.8 565.5)" fill="none" stroke="#000" stroke-width="0.9"/>
<ellipse cx="647.9" cy="598.4" rx="6.3" ry="3.6" transform="rotate(-8 647.9 598.4)" fill="#fff" stroke="#000" stroke-width="1.1"/>
<ellipse cx="647.9" cy="599" rx="3.9" ry="2" transform="rotate(-8 647.9 599)" fill="none" stroke="#000" stroke-width="0.9"/>
<ellipse cx="785.6" cy="555.8" rx="3.6" ry="5.2" transform="rotate(25 785.6 555.8)" fill="#fff" stroke="#000" stroke-width="1.1"/>
<ellipse cx="785.6" cy="555.8" rx="2" ry="3.4" transform="rotate(25 785.6 555.8)" fill="none" stroke="#000" stroke-width="0.8"/>
<ellipse cx="832.7" cy="559.4" rx="3.6" ry="5.2" transform="rotate(25 832.7 559.4)" fill="#fff" stroke="#000" stroke-width="1.1"/>
<ellipse cx="832.7" cy="559.4" rx="2" ry="3.4" transform="rotate(25 832.7 559.4)" fill="none" stroke="#000" stroke-width="0.8"/>
<ellipse cx="859.9" cy="598.4" rx="3.6" ry="5.2" transform="rotate(25 859.9 598.4)" fill="#fff" stroke="#000" stroke-width="1.1"/>
<ellipse cx="859.9" cy="598.4" rx="2" ry="3.4" transform="rotate(25 859.9 598.4)" fill="none" stroke="#000" stroke-width="0.8"/>
<ellipse cx="730.3" cy="588.4" rx="3.6" ry="5.2" transform="rotate(25 730.3 588.4)" fill="#fff" stroke="#000" stroke-width="1.1"/>
<ellipse cx="730.3" cy="588.4" rx="2" ry="3.4" transform="rotate(25 730.3 588.4)" fill="none" stroke="#000" stroke-width="0.8"/>
<ellipse cx="626.2" cy="532.2" rx="3.6" ry="5.2" transform="rotate(25 626.2 532.2)" fill="#fff" stroke="#000" stroke-width="1.1"/>
<ellipse cx="626.2" cy="532.2" rx="2" ry="3.4" transform="rotate(25 626.2 532.2)" fill="none" stroke="#000" stroke-width="0.8"/>
<ellipse cx="575.4" cy="562.1" rx="3.6" ry="5.2" transform="rotate(25 575.4 562.1)" fill="#fff" stroke="#000" stroke-width="1.1"/>
<ellipse cx="575.4" cy="562.1" rx="2" ry="3.4" transform="rotate(25 575.4 562.1)" fill="none" stroke="#000" stroke-width="0.8"/>
<ellipse cx="651.5" cy="568.5" rx="3.6" ry="5.2" transform="rotate(25 651.5 568.5)" fill="#fff" stroke="#000" stroke-width="1.1"/>
<ellipse cx="651.5" cy="568.5" rx="2" ry="3.4" transform="rotate(25 651.5 568.5)" fill="none" stroke="#000" stroke-width="0.8"/>
<ellipse cx="703.2" cy="506" rx="3.6" ry="5.2" transform="rotate(25 703.2 506)" fill="#fff" stroke="#000" stroke-width="1.1"/>
<ellipse cx="703.2" cy="506" rx="2" ry="3.4" transform="rotate(25 703.2 506)" fill="none" stroke="#000" stroke-width="0.8"/>
<path d="M 409.5 610.9 L 411.3 608.2 Q 414.9 606.3 420.4 607.2 L 429.4 610.9 L 449.3 618.1 L 462 610.9 L 476.5 607.2 L 480.1 603.6" fill="none" stroke="#000" stroke-width="1.0" stroke-dasharray="5.5 2.5"/>
<path d="M 409.5 610.9 L 409.5 616.3 L 425.8 625.4 C 429.4 627.2 427.6 634.4 424 636.2 L 414.9 639.9 L 396.8 630.8 L 425.8 618.1" fill="none" stroke="#000" stroke-width="1.0"/>
<path d="M 480.1 617.2 Q 482 612.7 487.4 613.6 L 505.5 634.4 Q 507.3 637.1 504.6 638.9 L 462 662.5 L 449.3 663.4 L 438.5 668.8" fill="none" stroke="#000" stroke-width="1.0"/>
<path d="M 480.1 617.2 L 501.9 638.9 L 460.2 661.6" fill="none" stroke="#000" stroke-width="1.0"/>
<path d="M474.7 683.3 L541.7 643.5" fill="none" stroke="#000" stroke-width="1.0"/>
<path d="M480.1 735 L507.3 717.8" fill="none" stroke="#000" stroke-width="1.0" stroke-dasharray="5.5 2.5"/>
<path d="M480.1 754 L507.3 741.3" fill="none" stroke="#000" stroke-width="1.0"/>
<path d="M482 772.1 L510.9 757.6" fill="none" stroke="#000" stroke-width="1.0"/>
<path d="M509.1 715.9 L570 683.3" fill="none" stroke="#000" stroke-width="1.0"/>
<path d="M 438.5 723.2 C 443.9 717.8 451.2 714.1 458.4 714.1 C 463.8 715.9 463.8 725 458.4 727.7 C 453 729.5 445.7 728.6 438.5 723.2 Z" fill="none" stroke="#000" stroke-width="1.0"/>
<path d="M 545.4 654.3 C 539.9 665.2 541.7 681.5 552.6 694.2 C 559.9 699.6 565.3 699.6 570 697.8" fill="none" stroke="#000" stroke-width="1.0" stroke-dasharray="5.5 2.5"/>
<path d="M 552.6 607.2 C 547.2 610.9 543.6 618.1 547.2 623.6" fill="none" stroke="#000" stroke-width="1.0"/>
<ellipse cx="517.3" cy="729.5" rx="6.8" ry="8.2" transform="rotate(25 517.3 729.5)" fill="#fff" stroke="#000" stroke-width="1.1"/>
<ellipse cx="518.3" cy="729.5" rx="3.6" ry="4.6" transform="rotate(25 518.3 729.5)" fill="none" stroke="#000" stroke-width="1.0"/>
<ellipse cx="517.8" cy="749.5" rx="6.8" ry="8.2" transform="rotate(25 517.8 749.5)" fill="#fff" stroke="#000" stroke-width="1.1"/>
<ellipse cx="518.8" cy="749.5" rx="3.6" ry="4.6" transform="rotate(25 518.8 749.5)" fill="none" stroke="#000" stroke-width="1.0"/>
<path d="M 510.9 750.4 C 505.5 748.6 498.3 748.6 492.8 752.2 L 480.1 758.5" fill="none" stroke="#000" stroke-width="1.0" stroke-dasharray="5.5 2.5"/>
<ellipse cx="541.7" cy="774.3" rx="7" ry="8.6" transform="rotate(25 541.7 774.3)" fill="#fff" stroke="#000" stroke-width="1.1"/>
<path d="M 534.5 779.3 C 536.3 782.1 538.1 783 540.8 782.6" fill="none" stroke="#000" stroke-width="1.0"/>
<path d="M 490.1 806.5 C 491 792 505.5 779.3 520 776.6 C 529.1 775.7 532.7 781.2 529.1 792 C 525.4 801.1 520 806.5 512.8 808" fill="none" stroke="#000" stroke-width="1.0" stroke-dasharray="5.5 2.5"/>
<path d="M 490.1 806.5 C 494.6 797.5 505.5 786.6 516.4 783" fill="none" stroke="#000" stroke-width="1.0"/>
<path d="M 561.7 808 C 559.9 802.9 559.9 799.3 563.5 795.7" fill="none" stroke="#000" stroke-width="1.0"/>
<ellipse cx="416.7" cy="609.1" rx="5" ry="3" transform="rotate(-8 416.7 609.1)" fill="#fff" stroke="#000" stroke-width="1.1"/>
<ellipse cx="416.7" cy="609.7" rx="3.1" ry="1.7" transform="rotate(-8 416.7 609.7)" fill="none" stroke="#000" stroke-width="0.9"/>
<ellipse cx="433.9" cy="623.2" rx="5" ry="3" transform="rotate(-8 433.9 623.2)" fill="#fff" stroke="#000" stroke-width="1.1"/>
<ellipse cx="433.9" cy="623.8" rx="3.1" ry="1.7" transform="rotate(-8 433.9 623.8)" fill="none" stroke="#000" stroke-width="0.9"/>
<ellipse cx="539.9" cy="628.1" rx="5" ry="3" transform="rotate(-8 539.9 628.1)" fill="#fff" stroke="#000" stroke-width="1.1"/>
<ellipse cx="539.9" cy="628.7" rx="3.1" ry="1.7" transform="rotate(-8 539.9 628.7)" fill="none" stroke="#000" stroke-width="0.9"/>
<ellipse cx="470.2" cy="639.9" rx="3.2" ry="2.2" fill="none" stroke="#000" stroke-width="1.0"/>
<path d="M411.2 600.2 L357.8 625.3" fill="none" stroke="#000" stroke-width="1.1" stroke-dasharray="9 3"/>
<path d="M357.8 625.3 L306.1 647.3" fill="none" stroke="#000" stroke-width="1.1"/>
<path d="M 306.1 647.3 L 282.5 657 Q 276 658.5 275.3 666.1 L 275 810.1" fill="none" stroke="#000" stroke-width="1.1" stroke-dasharray="14 3 3 3"/>
<path d="M 306.1 646.9 C 310.8 644.9 317.1 644.1 321.8 645.7 L 332.7 649.6" fill="none" stroke="#000" stroke-width="1.0"/>
<path d="M 332.7 649.6 L 327.2 652 Q 324.9 653.5 325.7 655.9 L 346.9 674.7 Q 348.4 676.3 350.8 674.2 L 351.6 671.1 Q 351.2 669.2 349.2 668.4 L 332.7 649.6" fill="none" stroke="#000" stroke-width="1.0"/>
<path d="M327.2 657.4 L346.9 674.7" fill="none" stroke="#000" stroke-width="1.0"/>
<path d="M 308.4 655.4 L 348.4 675.8 L 370.4 688.3 L 411.2 714.7 C 420.6 722.5 426.8 730.4 431.5 739.8 L 436.2 750.8" fill="none" stroke="#000" stroke-width="1.1"/>
<path d="M 370.4 688.3 L 379.8 692.7" fill="none" stroke="#000" stroke-width="1.0"/>
<path d="M 404.9 733.5 C 415.9 738.2 425.3 746.1 431.5 755.5" fill="none" stroke="#000" stroke-width="1.0" stroke-dasharray="5.5 2.5"/>
<path d="M 286.9 681.8 Q 288 675.5 296.7 674.7 C 301.4 674.2 306.1 677.1 312.3 676.7 C 318.6 676.4 323.3 677.1 326.5 681.8 C 329.6 685.7 332.7 688 339 690.4 C 343.7 692 346.9 694.3 349.2 696.7 C 353.1 699 357.8 700.6 364.1 703.7 C 370.4 706.9 375.1 710 379.8 714.7 C 381.4 717.8 382.1 720.2 384.5 721.8 L 404.9 733.5" fill="none" stroke="#000" stroke-width="1.0"/>
<path d="M 404.9 733.5 C 406.4 739.8 408 749.2 411.2 755.5" fill="none" stroke="#000" stroke-width="1.0" stroke-dasharray="5.5 2.5"/>
<path d="M 281.8 697.4 L 281.8 675.5 Q 282.2 666.4 290.4 664.2 L 299.8 663.2" fill="none" stroke="#000" stroke-width="2.4"/>
<path d="M281.8 717.8 L281.8 785.3" fill="none" stroke="#000" stroke-width="2.6"/>
<path d="M281.8 801 L281.8 810.1" fill="none" stroke="#000" stroke-width="2.6"/>
<path d="M 418.2 731.9 L 422.9 738.2 L 428.4 746.1 L 433.1 753.9" fill="none" stroke="#000" stroke-width="2.6" stroke-dasharray="5 7"/>
<path d="M433.9 755.5 L435 786.8" fill="none" stroke="#000" stroke-width="2.6"/>
<path d="M285.7 717.8 L285.7 810.1" fill="none" stroke="#000" stroke-width="1.0" stroke-dasharray="14 3 3 3"/>
<path d="M298.5 717.8 L298.5 774.3" fill="none" stroke="#000" stroke-width="1.0"/>
<path d="M426.8 755.5 L428.7 810.1" fill="none" stroke="#000" stroke-width="1.0" stroke-dasharray="14 3 3 3"/>
<path d="M 439.4 752.3 C 441.7 763.3 442.5 779 443.3 810.1" fill="none" stroke="#000" stroke-width="1.0"/>
<path d="M 286.5 717.8 C 292 715.5 299.8 712.3 306.1 709.2 C 312.3 705.3 312.3 695.9 307.6 690.4 C 305.3 688 302.2 688 300.6 689.6" fill="none" stroke="#000" stroke-width="1.0"/>
<path d="M287.3 699 L301.4 692" fill="none" stroke="#000" stroke-width="1.0"/>
<path d="M 301.4 692 L 306.9 689.6 L 307.6 695.9" fill="none" stroke="#000" stroke-width="1.0" stroke-dasharray="5.5 2.5"/>
<path d="M 286.5 782.1 C 292 779.8 296.7 775.1 301.4 773.5 C 307.6 775.9 312.3 783.7 310.8 791.5 C 310 796.2 307.6 799.4 304.5 801" fill="none" stroke="#000" stroke-width="1.0"/>
<path d="M287.3 783.7 L300.6 775.9" fill="none" stroke="#000" stroke-width="1.0"/>
<path d="M 295.9 801 C 299.8 804.1 306.1 804.1 310.8 802.5" fill="none" stroke="#000" stroke-width="1.0"/>
<path d="M 351.6 711.6 C 345.3 714.7 345.3 724.1 350 727.2 C 354.7 729.6 361 727.2 362.5 721 C 363.3 716.3 361 713.1 357.8 711.6" fill="none" stroke="#000" stroke-width="1.0"/>
<path d="M 335.9 691.2 C 334.3 695.9 337.4 699 343.7 699 C 348.4 699 351.6 697.4 353.1 694.3" fill="none" stroke="#000" stroke-width="1.0"/>
<path d="M 349.2 696.7 C 348.4 700.6 350 703.7 354.7 705.3 C 359.4 706.1 362.5 703.7 364.1 702.1" fill="none" stroke="#000" stroke-width="1.0"/>
<path d="M 376.6 717.8 L 376.6 749.2 L 372.7 750.8 L 378.2 753.9 L 378.2 757" fill="none" stroke="#000" stroke-width="1.0"/>
<path d="M 317.1 786.8 C 321.8 771.2 332.7 758.6 348.4 751.5 C 357.8 747.9 367.2 749.2 373.5 751.5" fill="none" stroke="#000" stroke-width="1.0" stroke-dasharray="5.5 2.5"/>
<path d="M 319.4 786.8 C 324.1 771.9 334.3 760.2 350 753.9" fill="none" stroke="#000" stroke-width="1.0"/>
<path d="M 322.5 786.8 C 326.5 774.3 335.9 763.3 351.6 756.3" fill="none" stroke="#000" stroke-width="1.0"/>
<path d="M321.8 786.8 L378.2 758.6" fill="none" stroke="#000" stroke-width="1.0"/>
<path d="M 378.2 758.6 C 392.3 763.3 403.3 774.3 408 786.8 C 409.6 794.7 409.6 802.5 408 810.1" fill="none" stroke="#000" stroke-width="1.0" stroke-dasharray="5.5 2.5"/>
<path d="M343.7 810.1 L480 730.4" fill="none" stroke="#000" stroke-width="1.0"/>
<path d="M 373.5 810.1 C 376.6 802.5 382.9 799.4 389.2 800.2 C 393.9 801 395.5 805.7 395.5 810.1" fill="none" stroke="#000" stroke-width="1.0"/>
<path d="M392.3 810.1 L408 802.5" fill="none" stroke="#000" stroke-width="1.0"/>
<path d="M 404.9 733.5 C 404.9 749.2 411.2 768 420.6 780.6 L 426.8 786.8" fill="none" stroke="#000" stroke-width="1.0" stroke-dasharray="5.5 2.5"/>
<path d="M 417.4 730.4 L 420.6 733.5 L 428.4 744.5 C 430 749.2 431.5 755.5 433.1 760.2" fill="none" stroke="#000" stroke-width="1.0"/>
<path d="M 360.2 658.2 Q 361 655.1 364.1 653.5 L 386.8 641.8 L 426.8 662.9 Q 428.7 665.3 425.3 667.6 L 400.2 681.8 Q 395.5 684.1 390.8 681.8 L 362.5 663.7 Q 360.2 661.4 360.2 658.2 Z" fill="none" stroke="#000" stroke-width="1.1"/>
<path d="M396.3 655.1 L396.3 680.2" fill="none" stroke="#000" stroke-width="2.4"/>
<path d="M389.2 642.5 L389.2 650.4" fill="none" stroke="#000" stroke-width="1.0"/>
<path d="M 365.7 663.7 L 373.5 659.8 L 371.9 669.2 M 382.9 653.5 C 386.1 652 392.3 652 395.5 654.3" fill="none" stroke="#000" stroke-width="1.0"/>
<path d="M 389.2 643.3 L 426.8 663.7" fill="none" stroke="#000" stroke-width="1.0" stroke-dasharray="5.5 2.5"/>
<path d="M 370.4 688 C 371.9 686.5 378.2 684.9 382.9 686.5 L 392.3 692 Q 395.5 694.3 400.2 693.5 L 442.5 671.6 L 458.2 666.1 L 480 655.1" fill="none" stroke="#000" stroke-width="1.0"/>
<path d="M 403.3 692 L 408 689.6 L 442.5 672.3" fill="none" stroke="#000" stroke-width="1.0" stroke-dasharray="5.5 2.5"/>
<path d="M404.9 695.9 L445.7 675.5" fill="none" stroke="#000" stroke-width="1.0"/>
<path d="M415.9 695.9 L447.2 679.4" fill="none" stroke="#000" stroke-width="1.0"/>
<path d="M 445.7 671.6 C 450.4 677.1 451.9 689.6 453.5 695.9 C 455.1 703.7 462.9 706.9 480 713.1" fill="none" stroke="#000" stroke-width="1.0"/>
<path d="M 453.5 673.9 L 480 688" fill="none" stroke="#000" stroke-width="1.0"/>
<path d="M 430 711.6 L 455.1 703.7" fill="none" stroke="#000" stroke-width="1.0"/>
<path d="M 414.3 717.8 L 430 711.6" fill="none" stroke="#000" stroke-width="1.0"/>
<path d="M445.7 764.9 L480 746.1" fill="none" stroke="#000" stroke-width="1.0"/>
<path d="M447.2 780.6 L480 763.3" fill="none" stroke="#000" stroke-width="1.0"/>
<path d="M451.9 730.4 L480 717.8" fill="none" stroke="#000" stroke-width="1.0" stroke-dasharray="5.5 2.5"/>
<ellipse cx="389.2" cy="635.5" rx="4.4" ry="2.6" transform="rotate(-5 389.2 635.5)" fill="#fff" stroke="#000" stroke-width="1.1"/>
<ellipse cx="389.2" cy="635.8" rx="2.6" ry="1.4" transform="rotate(-5 389.2 635.8)" fill="none" stroke="#000" stroke-width="0.8"/>
<ellipse cx="348.4" cy="659" rx="4.4" ry="2.6" transform="rotate(-5 348.4 659)" fill="#fff" stroke="#000" stroke-width="1.1"/>
<ellipse cx="348.4" cy="659.3" rx="2.6" ry="1.4" transform="rotate(-5 348.4 659.3)" fill="none" stroke="#000" stroke-width="0.8"/>
<ellipse cx="437" cy="662.9" rx="4.4" ry="2.6" transform="rotate(-5 437 662.9)" fill="#fff" stroke="#000" stroke-width="1.1"/>
<ellipse cx="437" cy="663.2" rx="2.6" ry="1.4" transform="rotate(-5 437 663.2)" fill="none" stroke="#000" stroke-width="0.8"/>
<ellipse cx="395.5" cy="687.2" rx="4.4" ry="2.6" transform="rotate(-5 395.5 687.2)" fill="#fff" stroke="#000" stroke-width="1.1"/>
<ellipse cx="395.5" cy="687.5" rx="2.6" ry="1.4" transform="rotate(-5 395.5 687.5)" fill="none" stroke="#000" stroke-width="0.8"/>
<ellipse cx="470" cy="640.2" rx="4.4" ry="2.6" transform="rotate(-5 470 640.2)" fill="#fff" stroke="#000" stroke-width="1.1"/>
<ellipse cx="470" cy="640.5" rx="2.6" ry="1.4" transform="rotate(-5 470 640.5)" fill="none" stroke="#000" stroke-width="0.8"/>
<ellipse cx="306.9" cy="665.3" rx="4" ry="5.2" transform="rotate(20 306.9 665.3)" fill="#fff" stroke="#000" stroke-width="1.1"/>
<ellipse cx="357" cy="688.8" rx="4" ry="5.2" transform="rotate(20 357 688.8)" fill="#fff" stroke="#000" stroke-width="1.1"/>
<ellipse cx="387.6" cy="713.1" rx="4" ry="5.2" transform="rotate(20 387.6 713.1)" fill="#fff" stroke="#000" stroke-width="1.1"/>
<ellipse cx="409.6" cy="724.9" rx="4" ry="5.2" transform="rotate(20 409.6 724.9)" fill="#fff" stroke="#000" stroke-width="1.1"/>
<ellipse cx="437.8" cy="796.2" rx="4" ry="5.2" transform="rotate(20 437.8 796.2)" fill="#fff" stroke="#000" stroke-width="1.1"/>
<ellipse cx="284.1" cy="707.6" rx="4.3" ry="5.5" transform="rotate(20 284.1 707.6)" fill="#fff" stroke="#000" stroke-width="1.1"/>
<ellipse cx="284.1" cy="707.6" rx="2.5" ry="3.5" transform="rotate(20 284.1 707.6)" fill="none" stroke="#000" stroke-width="0.8"/>
<ellipse cx="284.1" cy="793.1" rx="4.3" ry="5.5" transform="rotate(20 284.1 793.1)" fill="#fff" stroke="#000" stroke-width="1.1"/>
<ellipse cx="284.1" cy="793.1" rx="2.5" ry="3.5" transform="rotate(20 284.1 793.1)" fill="none" stroke="#000" stroke-width="0.8"/>
<path d="M 480 584.2 L 528 619 C 533 622.3 539.6 624 546.2 624.3 L 557.8 625.6 L 579.3 628.1 C 587.6 628.6 595.9 627.3 605.8 620.7 L 620.7 608.2" fill="none" stroke="#000" stroke-width="1.1"/>
<path d="M 480 596.7 L 524.7 628.9 C 529.7 632.3 536.3 633.9 542.9 634.7 L 595.9 638.9" fill="none" stroke="#000" stroke-width="1.0"/>
<path d="M 542.9 612.4 C 546.2 609.1 549.5 607.4 552.8 609.1 L 556.2 625.6" fill="none" stroke="#000" stroke-width="1.0"/>
<path d="M 552.8 609.1 L 579.3 624" fill="none" stroke="#000" stroke-width="1.0"/>
<path d="M619.1 607.4 L700 562.7" fill="none" stroke="#000" stroke-width="1.0" stroke-dasharray="5.5 2.5"/>
<path d="M599.2 637.2 L700 579.3" fill="none" stroke="#000" stroke-width="1.1"/>
<path d="M599.2 640.5 L599.2 647.2" fill="none" stroke="#000" stroke-width="1.0"/>
<path d="M 524.7 544.5 C 529.7 542.8 536.3 546.2 537.9 549.5 L 552.8 572.6" fill="none" stroke="#000" stroke-width="1.0"/>
<path d="M 538.8 551.1 C 542.9 547.8 546.2 549.5 549.5 556.1 L 554.5 567.7 C 555.3 571 552.8 573.5 550.4 571.8" fill="none" stroke="#000" stroke-width="1.0"/>
<path d="M 480 556.1 L 489.9 556.1 C 496.6 554.4 499.9 551.1 499.9 544.5" fill="none" stroke="#000" stroke-width="1.0"/>
<path d="M 700.4 600 C 687.8 614.5 676.9 627.2 671.4 638 C 662.4 654.3 657 668.8 655.1 679.7 C 651.5 694.2 649.7 708.7 646.1 715.9 L 624.3 739.5 L 593.6 773.9 C 588.1 781.2 589.9 788.4 599 792 L 615.3 799.3 L 646.1 795.7 L 655.1 808" fill="none" stroke="#000" stroke-width="1.1" stroke-dasharray="5.5 2.5"/>
<path d="M 696.8 605.4 C 685.9 619.9 675.1 634.4 667.8 647.1 C 660.6 659.8 655.1 676.1 652.4 690.6" fill="none" stroke="#000" stroke-width="1.0"/>
<path d="M 652.4 690.6 C 651.5 701.4 655.1 705.1 662.4 701.4 L 664.2 694.2" fill="none" stroke="#000" stroke-width="1.0"/>
<path d="M 615.3 755.8 L 637 735 Q 640.7 733.2 641.6 737.7 L 641.6 779.3 L 618.9 790.2 Q 616.2 791.1 616.2 787.5 Z" fill="none" stroke="#000" stroke-width="1.0" stroke-dasharray="5.5 2.5"/>
<path d="M 618.9 759.4 L 637 743.1 L 637 779.3 L 618.9 788.4" fill="none" stroke="#000" stroke-width="1.0"/>
<path d="M 600.8 690.6 C 597.2 681.5 606.2 670.7 617.1 666.1 C 628 661.6 637 661.6 638.8 667.9 C 640.7 676.1 631.6 687 622.5 692.4 C 613.5 697.8 604.4 697.8 600.8 690.6 Z" fill="#fff" stroke="#000" stroke-width="1.1"/>
<path d="M 599 683.3 C 600.8 692.4 606.2 698.7 613.5 697.8" fill="none" stroke="#000" stroke-width="1.0"/>
<path d="M 704.4 717.2 C 704.4 701.5 707.9 687.6 714.8 671.9 C 720.1 663.2 725.3 657.9 730.5 654.5 C 737.5 647.5 742.7 640.5 749.7 635.3 C 756.7 630.1 763.6 625.7 770.6 623.1 C 777.6 620.7 784.5 619.3 788 619.6 C 795 620.5 800.2 622.2 802 624.8 C 807.2 630.1 810.7 635.3 811.5 640.5 C 812.8 647.5 812.8 654.5 812.4 659.7 C 811.5 670.1 810.3 677.1 808.9 682.3 C 806.3 691 803.7 698 800.2 703.2 C 795.9 710.2 791.5 717.2 788 722.4 C 782.8 729.4 777.6 734.6 774.1 738.1 C 767.1 744.2 760.1 747.7 754.9 750.3 C 747.9 753.8 741 756.4 735.7 757.2 C 730.5 757.6 724.4 756.9 720.1 755.5 C 714.8 752.9 711.4 747.7 709.6 743.3 C 707 737.2 705.3 731.1 704.4 717.2 Z" fill="none" stroke="#000" stroke-width="1.2"/>
<path d="M 708.7 718 C 708.7 703.2 712.2 689.3 719.2 674.5 C 725.3 663.2 735.7 651 749.7 640.5 C 761.9 630.9 774.1 625.7 786.3 624" fill="none" stroke="#000" stroke-width="1.0"/>
<path d="M 807.2 663.2 C 806.3 680.6 800.2 698 788 715.4 C 777.6 729.4 763.6 741.6 746.2 748.5" fill="none" stroke="#000" stroke-width="1.0" stroke-dasharray="5.5 2.5"/>
<ellipse cx="758.4" cy="690.2" rx="58.5" ry="41" transform="rotate(-66 758.4 690.2)" fill="none" stroke="#000" stroke-width="1.1" stroke-dasharray="5.5 2.5"/>
<path d="M 777.6 635.3 C 781.9 645.7 783.1 659.7 780.2 673.6 C 777.6 687.6 770.6 701.5 761.9 712" fill="none" stroke="#000" stroke-width="1.0"/>
<path d="M735.7 673.6 L782.8 701.5" fill="none" stroke="#000" stroke-width="1.0"/>
<path d="M754.9 645.7 L781 664.9" fill="none" stroke="#000" stroke-width="1.0"/>
<path d="M744.5 657.9 L777.6 677.1" fill="none" stroke="#000" stroke-width="1.0" stroke-dasharray="5.5 2.5"/>
<path d="M716.6 694.5 L728.8 689.3 L761.9 710.2" fill="none" stroke="#000" stroke-width="1.0"/>
<path d="M727 673.6 L728.8 689.3" fill="none" stroke="#000" stroke-width="1.0"/>
<path d="M720.1 736.3 L744.5 729.4" fill="none" stroke="#000" stroke-width="1.0"/>
<path d="M742.7 656.2 L754.9 649.2 L756.7 647.5" fill="none" stroke="#000" stroke-width="1.0"/>
<path d="M 852.5 590 L 852.5 671.9" fill="none" stroke="#000" stroke-width="1.0" stroke-dasharray="14 3 3 3"/>
<path d="M 871.6 590 L 871.6 671.9 L 864.7 677.1 L 864.7 708.5 L 873.4 712 L 873.4 764.2" fill="none" stroke="#000" stroke-width="1.1"/>
<path d="M 869.9 712 L 869.9 764.2" fill="none" stroke="#000" stroke-width="1.0" stroke-dasharray="14 3 3 3"/>
<path d="M 843.8 732.9 L 843.8 767.7 C 847.2 771.2 854.2 772.9 864.7 771.2 L 873.4 764.2" fill="none" stroke="#000" stroke-width="1.0"/>
<path d="M 815.9 760.7 C 819.4 757.2 824.6 752 829.8 746.8 C 833.3 743.3 836.8 741.6 842 739.8" fill="none" stroke="#000" stroke-width="1.0"/>
<path d="M 822.9 767.7 C 829.8 764.2 836.8 762.5 843.8 764.2" fill="none" stroke="#000" stroke-width="1.0"/>
<path d="M 802 612.6 L 812.4 609.2 L 836.8 595.2 L 843.8 600.5 L 843.8 617.9 L 812.4 637" fill="none" stroke="#000" stroke-width="1.0"/>
<path d="M 805.4 624.8 L 842 605.7" fill="none" stroke="#000" stroke-width="1.0" stroke-dasharray="5.5 2.5"/>
<path d="M 812.4 680.6 L 833.3 668.4 L 836.8 671.9 L 836.8 715.4 L 826.3 722.4" fill="none" stroke="#000" stroke-width="1.0" stroke-dasharray="5.5 2.5"/>
<path d="M 815.9 691 L 850.7 694.5 L 850.7 712 L 840.3 718.9" fill="none" stroke="#000" stroke-width="1.0"/>
<path d="M 808.9 701.5 L 819.4 712 L 836.8 722.4" fill="none" stroke="#000" stroke-width="1.0"/>
<path d="M 732.3 617.9 C 732.3 610.9 737.5 605.7 746.2 603.9 L 763.6 597" fill="none" stroke="#000" stroke-width="1.0"/>
<path d="M 734 624.8 L 760.1 610.9" fill="none" stroke="#000" stroke-width="1.0"/>
<path d="M 754.9 607.4 C 760.1 614.4 763.6 616.1 770.6 614.4" fill="none" stroke="#000" stroke-width="1.0"/>
<path d="M 714.8 600.5 C 716.6 603.9 721.8 607.4 728.8 607.4" fill="none" stroke="#000" stroke-width="1.0"/>
<ellipse cx="706.1" cy="616.1" rx="3.8" ry="5" transform="rotate(20 706.1 616.1)" fill="none" stroke="#000" stroke-width="1.0"/>
<ellipse cx="711.4" cy="626.6" rx="3" ry="3.8" transform="rotate(20 711.4 626.6)" fill="none" stroke="#000" stroke-width="1.0"/>
<ellipse cx="859.4" cy="755.5" rx="4.8" ry="6.5" transform="rotate(25 859.4 755.5)" fill="none" stroke="#000" stroke-width="1.0"/>
<ellipse cx="809.8" cy="766" rx="3.8" ry="5" transform="rotate(20 809.8 766)" fill="none" stroke="#000" stroke-width="1.0"/>
<ellipse cx="849.9" cy="636.2" rx="3.2" ry="4" transform="rotate(20 849.9 636.2)" fill="none" stroke="#000" stroke-width="1.0"/>
<path d="M712.1 650.6 L711.3 650.1 L710.6 649.4 L709.9 648.6 L709.4 647.8 L708.9 646.8 L708.6 645.7 L708.4 644.6 L708.2 643.4 L708.2 642.2 L708.3 641 L708.6 639.7 L708.9 638.4 L709.3 637.1 L709.9 635.9 L710.5 634.7 L711.2 633.6 L712 632.5 L712.9 631.5 L713.8 630.5 L714.8 629.7 L715.9 629 L716.9 628.4 L718 627.9 L719.1 627.5 L720.2 627.3 L721.2 627.2 L722.3 627.2 L723.3 627.4 L724.2 627.7 L725.1 628.1 L734.1 633.1 L734.9 633.7 L735.7 634.3 L736.3 635.1 L736.8 636 L737.3 637 L737.6 638 L737.9 639.1 L738 640.3 L738 641.6 L737.9 642.8 L737.7 644.1 L737.3 645.4 L736.9 646.6 L736.3 647.9 L735.7 649.1 L735 650.2 L734.2 651.3 L733.3 652.3 L732.4 653.2 L731.4 654.1 L730.3 654.8 L729.3 655.4 L728.2 655.9 L727.1 656.2 L726 656.5 L725 656.6 L723.9 656.5 L722.9 656.4 L722 656.1 L721.1 655.6Z" fill="#fff" stroke="#000" stroke-width="1.1"/>
<ellipse cx="727.6" cy="644.4" rx="13" ry="9.4" transform="rotate(-60 727.6 644.4)" fill="#fff" stroke="#000" stroke-width="1.1"/>
<ellipse cx="727.6" cy="644.4" rx="11" ry="7.9" transform="rotate(-60 727.6 644.4)" fill="none" stroke="#000" stroke-width="0.9"/>
<ellipse cx="728.1" cy="644.7" rx="7.5" ry="5.4" transform="rotate(-60 728.1 644.7)" fill="none" stroke="#000" stroke-width="1.1"/>
<path d="M819.9 659.7 L819.1 659.1 L818.4 658.5 L817.7 657.7 L817.2 656.8 L816.7 655.9 L816.4 654.8 L816.1 653.7 L816 652.5 L816 651.3 L816.1 650 L816.3 648.7 L816.7 647.5 L817.1 646.2 L817.7 645 L818.3 643.8 L819 642.6 L819.8 641.5 L820.7 640.5 L821.6 639.6 L822.6 638.8 L823.7 638 L824.7 637.4 L825.8 636.9 L826.9 636.6 L828 636.4 L829 636.3 L830.1 636.3 L831.1 636.5 L832 636.8 L832.9 637.2 L841.9 642.2 L842.7 642.7 L843.4 643.4 L844.1 644.2 L844.6 645.1 L845.1 646 L845.4 647.1 L845.7 648.2 L845.8 649.4 L845.8 650.6 L845.7 651.9 L845.4 653.1 L845.1 654.4 L844.7 655.7 L844.1 656.9 L843.5 658.1 L842.8 659.3 L842 660.4 L841.1 661.4 L840.2 662.3 L839.2 663.1 L838.1 663.8 L837.1 664.5 L836 664.9 L834.9 665.3 L833.8 665.5 L832.8 665.6 L831.7 665.6 L830.7 665.4 L829.8 665.1 L828.9 664.7Z" fill="#fff" stroke="#000" stroke-width="1.1"/>
<ellipse cx="835.4" cy="653.4" rx="13" ry="9.4" transform="rotate(-60 835.4 653.4)" fill="#fff" stroke="#000" stroke-width="1.1"/>
<ellipse cx="835.4" cy="653.4" rx="11" ry="7.9" transform="rotate(-60 835.4 653.4)" fill="none" stroke="#000" stroke-width="0.9"/>
<ellipse cx="835.9" cy="653.7" rx="7.5" ry="5.4" transform="rotate(-60 835.9 653.7)" fill="none" stroke="#000" stroke-width="1.1"/>
<path d="M675.9 743.9 L675.1 743.4 L674.3 742.7 L673.7 741.9 L673.1 741.1 L672.7 740.1 L672.4 739 L672.1 737.9 L672 736.7 L672 735.5 L672.1 734.3 L672.3 733 L672.7 731.7 L673.1 730.4 L673.6 729.2 L674.3 728 L675 726.8 L675.8 725.8 L676.7 724.8 L677.6 723.8 L678.6 723 L679.6 722.3 L680.7 721.7 L681.8 721.2 L682.9 720.8 L684 720.6 L685 720.5 L686.1 720.5 L687 720.7 L688 721 L688.9 721.4 L697.9 726.4 L698.7 727 L699.4 727.6 L700.1 728.4 L700.6 729.3 L701.1 730.3 L701.4 731.3 L701.6 732.4 L701.8 733.6 L701.8 734.8 L701.6 736.1 L701.4 737.4 L701.1 738.7 L700.7 739.9 L700.1 741.2 L699.5 742.4 L698.8 743.5 L698 744.6 L697.1 745.6 L696.1 746.5 L695.1 747.4 L694.1 748.1 L693.1 748.7 L692 749.2 L690.9 749.5 L689.8 749.8 L688.7 749.9 L687.7 749.8 L686.7 749.7 L685.8 749.4 L684.9 748.9Z" fill="#fff" stroke="#000" stroke-width="1.1"/>
<ellipse cx="691.4" cy="737.7" rx="13" ry="9.4" transform="rotate(-60 691.4 737.7)" fill="#fff" stroke="#000" stroke-width="1.1"/>
<ellipse cx="691.4" cy="737.7" rx="11" ry="7.9" transform="rotate(-60 691.4 737.7)" fill="none" stroke="#000" stroke-width="0.9"/>
<ellipse cx="691.9" cy="738" rx="7.5" ry="5.4" transform="rotate(-60 691.9 738)" fill="none" stroke="#000" stroke-width="1.1"/>
<path d="M785.5 753.9 L784.7 753.4 L783.9 752.7 L783.3 751.9 L782.7 751 L782.3 750.1 L782 749 L781.7 747.9 L781.6 746.7 L781.6 745.5 L781.7 744.2 L781.9 742.9 L782.3 741.7 L782.7 740.4 L783.2 739.2 L783.9 738 L784.6 736.8 L785.4 735.7 L786.3 734.7 L787.2 733.8 L788.2 733 L789.2 732.2 L790.3 731.6 L791.4 731.1 L792.5 730.8 L793.6 730.6 L794.6 730.5 L795.7 730.5 L796.7 730.7 L797.6 731 L798.5 731.4 L807.5 736.4 L808.3 736.9 L809 737.6 L809.7 738.4 L810.2 739.3 L810.7 740.2 L811 741.3 L811.2 742.4 L811.4 743.6 L811.4 744.8 L811.2 746.1 L811 747.3 L810.7 748.6 L810.3 749.9 L809.7 751.1 L809.1 752.3 L808.4 753.5 L807.6 754.6 L806.7 755.6 L805.7 756.5 L804.7 757.3 L803.7 758 L802.7 758.7 L801.6 759.1 L800.5 759.5 L799.4 759.7 L798.3 759.8 L797.3 759.8 L796.3 759.6 L795.4 759.3 L794.5 758.9Z" fill="#fff" stroke="#000" stroke-width="1.1"/>
<ellipse cx="801" cy="747.6" rx="13" ry="9.4" transform="rotate(-60 801 747.6)" fill="#fff" stroke="#000" stroke-width="1.1"/>
<ellipse cx="801" cy="747.6" rx="11" ry="7.9" transform="rotate(-60 801 747.6)" fill="none" stroke="#000" stroke-width="0.9"/>
<ellipse cx="801.5" cy="747.9" rx="7.5" ry="5.4" transform="rotate(-60 801.5 747.9)" fill="none" stroke="#000" stroke-width="1.1"/>
<path d="M712.1 792.9 L711.3 792.3 L710.6 791.6 L709.9 790.9 L709.4 790 L708.9 789 L708.6 788 L708.4 786.8 L708.2 785.6 L708.2 784.4 L708.3 783.2 L708.6 781.9 L708.9 780.6 L709.3 779.4 L709.9 778.1 L710.5 776.9 L711.2 775.8 L712 774.7 L712.9 773.7 L713.8 772.7 L714.8 771.9 L715.9 771.2 L716.9 770.6 L718 770.1 L719.1 769.7 L720.2 769.5 L721.2 769.4 L722.3 769.4 L723.3 769.6 L724.2 769.9 L725.1 770.3 L734.1 775.3 L734.9 775.9 L735.7 776.6 L736.3 777.3 L736.8 778.2 L737.3 779.2 L737.6 780.2 L737.9 781.4 L738 782.5 L738 783.8 L737.9 785 L737.7 786.3 L737.3 787.6 L736.9 788.8 L736.3 790.1 L735.7 791.3 L735 792.4 L734.2 793.5 L733.3 794.5 L732.4 795.4 L731.4 796.3 L730.3 797 L729.3 797.6 L728.2 798.1 L727.1 798.5 L726 798.7 L725 798.8 L723.9 798.7 L722.9 798.6 L722 798.3 L721.1 797.9Z" fill="#fff" stroke="#000" stroke-width="1.1"/>
<ellipse cx="727.6" cy="786.6" rx="13" ry="9.4" transform="rotate(-60 727.6 786.6)" fill="#fff" stroke="#000" stroke-width="1.1"/>
<ellipse cx="727.6" cy="786.6" rx="11" ry="7.9" transform="rotate(-60 727.6 786.6)" fill="none" stroke="#000" stroke-width="0.9"/>
<ellipse cx="728.1" cy="786.9" rx="7.5" ry="5.4" transform="rotate(-60 728.1 786.9)" fill="none" stroke="#000" stroke-width="1.1"/>
<path d="M 664.2 694.2 L 696.8 687 L 707.7 679.7" fill="none" stroke="#000" stroke-width="1.0"/>
<path d="M 666 679.7 L 693.2 676.1 L 696.8 668.8" fill="none" stroke="#000" stroke-width="1.0"/>
<path d="M 662.4 690.6 L 667.8 683.3 L 680.5 679.7 L 685.9 663.4 L 682.3 659.8" fill="none" stroke="#000" stroke-width="1.0"/>
<path d="M 671.4 658 L 696.8 650.7 L 707.7 645.3" fill="none" stroke="#000" stroke-width="1.0" stroke-dasharray="5.5 2.5"/>
<path d="M 693.2 634.4 L 700.4 630.8 L 720.4 658 L 718.6 663.4" fill="none" stroke="#000" stroke-width="1.0"/>
<path d="M 655.1 730.4 L 667.8 726.8 L 667.8 712.3" fill="none" stroke="#000" stroke-width="1.0"/>
<path d="M 653.3 737.7 L 653.3 781.2 L 664.2 795.7" fill="none" stroke="#000" stroke-width="1.0"/>
<path d="M 671.4 743.1 L 689.6 754 L 696.8 763 L 696.8 781.2" fill="none" stroke="#000" stroke-width="1.0"/>
<path d="M 667.8 770.3 L 689.6 757.6" fill="none" stroke="#000" stroke-width="1.0"/>
<path d="M 678.7 773.9 L 700.4 759.4 L 720.4 768.5 L 724 781.2" fill="none" stroke="#000" stroke-width="1.0" stroke-dasharray="5.5 2.5"/>
<path d="M 738.5 768.5 L 765.7 755.8 L 769.3 763 L 743.9 777.5" fill="none" stroke="#000" stroke-width="1.0"/>
<path d="M 756.6 781.2 L 769.3 772.1 L 774.7 779.3 L 783.8 777.5 L 792.8 783" fill="none" stroke="#000" stroke-width="1.0"/>
<path d="M 742.1 788.4 L 762 781.2 L 772.9 792 L 751.2 802.9" fill="none" stroke="#000" stroke-width="1.0" stroke-dasharray="5.5 2.5"/>
<path d="M 774.7 750.4 L 787.4 759.4 L 796.4 773.9 L 805.5 781.2" fill="none" stroke="#000" stroke-width="1.0"/>
<path d="M 850.8 600 L 850.8 712.3" fill="none" stroke="#000" stroke-width="1.0" stroke-dasharray="5.5 2.5"/>
<path d="M 841.7 614.5 L 849 621.7 L 849 641.7" fill="none" stroke="#000" stroke-width="1.0"/>
<path d="M 810.9 676.1 L 838.1 663.4 L 836.3 685.1 L 810.9 697.8" fill="none" stroke="#000" stroke-width="1.0"/>
<path d="M 810.9 715.9 L 829.1 708.7 L 847.2 694.2 L 849 715.9 L 827.2 726.8" fill="none" stroke="#000" stroke-width="1.0"/>
<path d="M 816.4 687 L 823.6 694.2" fill="none" stroke="#000" stroke-width="1.0"/>
<path d="M 805.5 737.7 L 820 734.1 C 827.2 730.4 838.1 730.4 841.7 735.9 L 845.4 744.9 L 845.4 766.7 C 852.6 770.3 863.5 770.3 870 768.5" fill="none" stroke="#000" stroke-width="1.0"/>
<path d="M 867.1 672.5 C 863.5 676.1 863.5 690.6 865.3 701.4 L 865.3 708.7 L 870 708.7" fill="none" stroke="#000" stroke-width="1.0"/>
<path d="M 820 766.7 C 827.2 763 834.5 761.2 841.7 763" fill="none" stroke="#000" stroke-width="1.0"/>
<path d="M 796.4 799.3 C 805.5 792 810.9 788.4 820 781.2 L 827.2 763" fill="none" stroke="#000" stroke-width="1.0"/>
<path d="M 765.7 600 C 769.3 607.2 774.7 612.7 783.8 614.5 L 794.6 616.3 L 805.5 610.9" fill="none" stroke="#000" stroke-width="1.0"/>
<path d="M 733 610.9 C 729.4 618.1 733 623.6 738.5 625.4 L 751.2 621.7 L 769.3 616.3" fill="none" stroke="#000" stroke-width="1.0" stroke-dasharray="5.5 2.5"/>
<path d="M 792.8 600 C 791 607.2 796.4 610.9 803.7 609.1 C 807.3 607.2 807.3 601.8 805.5 600" fill="none" stroke="#000" stroke-width="1.0"/>
<path d="M 805.5 618.1 L 845.4 603.6" fill="none" stroke="#000" stroke-width="1.0"/>
<path d="M 809.1 629 L 841.7 614.5" fill="none" stroke="#000" stroke-width="1.0" stroke-dasharray="5.5 2.5"/>
<path d="M 707.7 610.9 C 702.2 610.9 700.4 619.9 704.1 621.7 C 707.7 623.6 711.3 618.1 709.5 612.7" fill="none" stroke="#000" stroke-width="1.0"/>
<ellipse cx="711.3" cy="627.2" rx="3.2" ry="3.8" transform="rotate(20 711.3 627.2)" fill="none" stroke="#000" stroke-width="1.0"/>
<ellipse cx="849.9" cy="637.1" rx="3.2" ry="3.8" transform="rotate(20 849.9 637.1)" fill="none" stroke="#000" stroke-width="1.0"/>
<ellipse cx="809.1" cy="766.7" rx="4" ry="4.5" transform="rotate(20 809.1 766.7)" fill="none" stroke="#000" stroke-width="1.0"/>
<ellipse cx="859.9" cy="755.8" rx="5" ry="6.5" transform="rotate(30 859.9 755.8)" fill="none" stroke="#000" stroke-width="1.0"/>
<path d="M 820 766.7 C 821.8 761.2 827.2 759.4 830.9 763" fill="none" stroke="#000" stroke-width="1.0"/>
<path d="M 570 627.2 L 597.2 618.1 L 611.7 619.9 L 624.3 610.9 L 635.2 607.2" fill="none" stroke="#000" stroke-width="1.0"/>
<path d="M 570 636.2 L 599 629 L 671.4 601.8" fill="none" stroke="#000" stroke-width="1.0" stroke-dasharray="5.5 2.5"/>
<path d="M 570 607.2 L 591.7 614.5 L 620.7 605.4" fill="none" stroke="#000" stroke-width="1.0" stroke-dasharray="5.5 2.5"/>
<path d="M570 668.8 L696.8 603.6" fill="none" stroke="#000" stroke-width="1.0" stroke-dasharray="5.5 2.5"/>
<path d="M599 638 L599 647.1" fill="none" stroke="#000" stroke-width="1.0"/>
<path d="M588.1 641.7 L588.1 659.8 L584.5 663.4" fill="none" stroke="#000" stroke-width="1.0"/>
<path d="M570 659.8 L584.5 654.3" fill="none" stroke="#000" stroke-width="1.0"/>
<path d="M 624.3 607.2 C 624.3 603.6 629.8 601.8 633.4 603.6 C 637 607.2 635.2 610.9 631.6 610.9" fill="none" stroke="#000" stroke-width="1.0"/>
<path d="M 570 692.4 C 575.4 690.6 580.9 685.1 582.7 676.1" fill="none" stroke="#000" stroke-width="1.0"/>
<ellipse cx="682.3" cy="648" rx="3.6" ry="5.3" transform="rotate(25 682.3 648)" fill="#fff" stroke="#000" stroke-width="1.1"/>
<ellipse cx="682.3" cy="648" rx="2" ry="3.3" transform="rotate(25 682.3 648)" fill="none" stroke="#000" stroke-width="0.8"/>
<ellipse cx="657" cy="706.9" rx="3.6" ry="5.3" transform="rotate(25 657 706.9)" fill="#fff" stroke="#000" stroke-width="1.1"/>
<ellipse cx="657" cy="706.9" rx="2" ry="3.3" transform="rotate(25 657 706.9)" fill="none" stroke="#000" stroke-width="0.8"/>
<ellipse cx="600.8" cy="781.2" rx="3.6" ry="5.3" transform="rotate(25 600.8 781.2)" fill="#fff" stroke="#000" stroke-width="1.1"/>
<ellipse cx="600.8" cy="781.2" rx="2" ry="3.3" transform="rotate(25 600.8 781.2)" fill="none" stroke="#000" stroke-width="0.8"/>
<ellipse cx="657" cy="790.2" rx="3.6" ry="5.3" transform="rotate(25 657 790.2)" fill="#fff" stroke="#000" stroke-width="1.1"/>
<ellipse cx="657" cy="790.2" rx="2" ry="3.3" transform="rotate(25 657 790.2)" fill="none" stroke="#000" stroke-width="0.8"/>
<ellipse cx="858.9" cy="663.4" rx="3.6" ry="5.3" transform="rotate(25 858.9 663.4)" fill="#fff" stroke="#000" stroke-width="1.1"/>
<ellipse cx="858.9" cy="663.4" rx="2" ry="3.3" transform="rotate(25 858.9 663.4)" fill="none" stroke="#000" stroke-width="0.8"/>
<ellipse cx="831.8" cy="734.1" rx="3.6" ry="5.3" transform="rotate(25 831.8 734.1)" fill="#fff" stroke="#000" stroke-width="1.1"/>
<ellipse cx="831.8" cy="734.1" rx="2" ry="3.3" transform="rotate(25 831.8 734.1)" fill="none" stroke="#000" stroke-width="0.8"/>
<ellipse cx="783.8" cy="792" rx="3.6" ry="5.3" transform="rotate(25 783.8 792)" fill="#fff" stroke="#000" stroke-width="1.1"/>
<ellipse cx="783.8" cy="792" rx="2" ry="3.3" transform="rotate(25 783.8 792)" fill="none" stroke="#000" stroke-width="0.8"/>
<ellipse cx="783.8" cy="624.5" rx="3.6" ry="5.3" transform="rotate(25 783.8 624.5)" fill="#fff" stroke="#000" stroke-width="1.1"/>
<ellipse cx="783.8" cy="624.5" rx="2" ry="3.3" transform="rotate(25 783.8 624.5)" fill="none" stroke="#000" stroke-width="0.8"/>
<ellipse cx="809.1" cy="659.8" rx="3.6" ry="5.3" transform="rotate(25 809.1 659.8)" fill="#fff" stroke="#000" stroke-width="1.1"/>
<ellipse cx="809.1" cy="659.8" rx="2" ry="3.3" transform="rotate(25 809.1 659.8)" fill="none" stroke="#000" stroke-width="0.8"/>
<ellipse cx="783.8" cy="726.8" rx="3.6" ry="5.3" transform="rotate(25 783.8 726.8)" fill="#fff" stroke="#000" stroke-width="1.1"/>
<ellipse cx="783.8" cy="726.8" rx="2" ry="3.3" transform="rotate(25 783.8 726.8)" fill="none" stroke="#000" stroke-width="0.8"/>
<ellipse cx="732.1" cy="755.8" rx="3.6" ry="5.3" transform="rotate(25 732.1 755.8)" fill="#fff" stroke="#000" stroke-width="1.1"/>
<ellipse cx="732.1" cy="755.8" rx="2" ry="3.3" transform="rotate(25 732.1 755.8)" fill="none" stroke="#000" stroke-width="0.8"/>
<ellipse cx="706.8" cy="719.6" rx="3.6" ry="5.3" transform="rotate(25 706.8 719.6)" fill="#fff" stroke="#000" stroke-width="1.1"/>
<ellipse cx="706.8" cy="719.6" rx="2" ry="3.3" transform="rotate(25 706.8 719.6)" fill="none" stroke="#000" stroke-width="0.8"/>
<ellipse cx="613.5" cy="683.3" rx="3.6" ry="5.3" transform="rotate(25 613.5 683.3)" fill="#fff" stroke="#000" stroke-width="1.1"/>
<ellipse cx="613.5" cy="683.3" rx="2" ry="3.3" transform="rotate(25 613.5 683.3)" fill="none" stroke="#000" stroke-width="0.8"/>
<ellipse cx="859.9" cy="601.8" rx="3.6" ry="5.3" transform="rotate(25 859.9 601.8)" fill="#fff" stroke="#000" stroke-width="1.1"/>
<ellipse cx="859.9" cy="601.8" rx="2" ry="3.3" transform="rotate(25 859.9 601.8)" fill="none" stroke="#000" stroke-width="0.8"/>
<ellipse cx="573.6" cy="679.7" rx="3.6" ry="5.3" transform="rotate(25 573.6 679.7)" fill="#fff" stroke="#000" stroke-width="1.1"/>
<ellipse cx="573.6" cy="679.7" rx="2" ry="3.3" transform="rotate(25 573.6 679.7)" fill="none" stroke="#000" stroke-width="0.8"/>
<ellipse cx="594.5" cy="630.8" rx="5" ry="3" transform="rotate(-8 594.5 630.8)" fill="#fff" stroke="#000" stroke-width="1.1"/>
<ellipse cx="594.5" cy="631.4" rx="3.1" ry="1.7" transform="rotate(-8 594.5 631.4)" fill="none" stroke="#000" stroke-width="0.9"/>
<path d="M 275.4 800 L 275.4 872.5 C 276.3 885.1 280.9 894.2 288.1 901.4 L 306.2 926.8 C 313.5 934.1 320.7 937.7 328 941.3 L 396.8 984.8 C 405.9 986.6 424 983 436.7 980.3 C 441.2 979.3 443 975.7 443 970.3 L 443.9 800" fill="none" stroke="#000" stroke-width="1.1"/>
<path d="M 274.5 872.5 C 275.4 887 279.1 896 286.3 905.1 L 306.2 930.4 C 317.1 939.5 342.5 954 371.4 970.3 L 429.4 995.7 C 438.5 997.5 445.7 993.8 446.6 981.2 L 446.6 950.4" fill="none" stroke="#000" stroke-width="1.0" stroke-dasharray="9 3"/>
<path d="M 297.2 854.3 C 291.7 861.6 289.9 872.5 293.6 885.1 C 297.2 897.8 306.2 908.7 315.3 915.9 L 355.1 943.1 L 393.2 963 C 407.7 968.5 420.4 966.7 427.6 961.2 C 431.2 955.8 431.2 944.9 429.4 934.1 L 429.4 894.2" fill="none" stroke="#000" stroke-width="1.0" stroke-dasharray="5.5 2.5"/>
<path d="M 287.2 800 L 287.2 829 C 288.1 834.4 293.6 838 297.2 841.7" fill="none" stroke="#000" stroke-width="1.0"/>
<path d="M298.1 800 L298.1 825.4" fill="none" stroke="#000" stroke-width="1.0" stroke-dasharray="14 3 3 3"/>
<path d="M281.8 800 L281.8 841.7" fill="none" stroke="#000" stroke-width="2.2"/>
<path d="M291.7 894.2 L309.9 921.4" fill="none" stroke="#000" stroke-width="2.2"/>
<path d="M325.3 935.9 L353.3 954" fill="none" stroke="#000" stroke-width="2.2"/>
<path d="M367.8 963 L391.4 975.7" fill="none" stroke="#000" stroke-width="2.2"/>
<path d="M435.8 800 L435.8 872.5" fill="none" stroke="#000" stroke-width="2.2"/>
<path d="M438.5 892.4 L439.4 926.8" fill="none" stroke="#000" stroke-width="2.2"/>
<path d="M 409.5 977.5 L 425.8 973 Q 433.9 970.3 434.9 963 L 435.2 948.6" fill="none" stroke="#000" stroke-width="2.2"/>
<path d="M 284.5 863.4 L 284.5 876.1 M 284.5 877.9 C 280.9 877.9 280 881.5 282.7 883.3 C 286.3 884.2 287.2 881.5 285.4 877.9" fill="none" stroke="#000" stroke-width="1.2"/>
<path d="M 291.7 836.2 C 288.1 829 293.6 825.4 300.8 827.2 C 309.9 829 313.5 839.9 311.7 848.9 C 309.9 854.3 302.6 854.3 297.2 852.5 C 291.7 850.7 291.7 843.5 291.7 836.2" fill="none" stroke="#000" stroke-width="1.0"/>
<path d="M 299 830.8 C 304.4 832.6 308 839.9 306.2 847.1" fill="none" stroke="#000" stroke-width="1.0"/>
<path d="M304.4 856.2 L349.7 832.6 L396.8 810.9" fill="none" stroke="#000" stroke-width="1.0"/>
<path d="M 306.2 868.8 L 346.1 845.3" fill="none" stroke="#000" stroke-width="1.0" stroke-dasharray="5.5 2.5"/>
<path d="M 338.8 839.9 C 342.5 847.1 349.7 848.9 357 847.1 C 360.6 845.3 364.2 841.7 366 836.2" fill="none" stroke="#000" stroke-width="1.0"/>
<path d="M 371.4 821.7 C 375.1 830.8 376.9 839.9 373.3 845.3" fill="none" stroke="#000" stroke-width="1.0"/>
<path d="M 382.3 841.7 L 396.8 836.2 C 407.7 832.6 414.9 839.9 416.7 848.9 C 418.6 856.2 414.9 861.6 407.7 861.6" fill="none" stroke="#000" stroke-width="1.0"/>
<path d="M 385.9 843.5 L 407.7 872.5 L 420.4 885.1" fill="none" stroke="#000" stroke-width="1.0" stroke-dasharray="5.5 2.5"/>
<path d="M 384.1 845.3 L 396.8 861.6 L 407.7 872.5" fill="none" stroke="#000" stroke-width="1.0"/>
<path d="M 375.1 800 C 373.3 803.6 373.3 810.9 376.9 816.3 C 380.5 819.9 387.8 818.1 389.6 812.7 C 391.4 807.2 389.6 801.8 385.9 800" fill="none" stroke="#000" stroke-width="1.0"/>
<path d="M 396.8 800 L 407.7 807.2 L 407.7 819.9" fill="none" stroke="#000" stroke-width="1.0"/>
<path d="M 351.5 879.7 C 349.7 868.8 357 864.3 367.8 865.2 C 375.1 867 382.3 876.1 389.6 890.6 L 420.4 883.3" fill="none" stroke="#000" stroke-width="1.0" stroke-dasharray="5.5 2.5"/>
<path d="M 351.5 879.7 C 351.5 885.1 353.3 890.6 358.8 894.2 C 362.4 897.8 366 901.4 367.8 905.1 L 335.2 925" fill="none" stroke="#000" stroke-width="1.0"/>
<ellipse cx="369.6" cy="888.8" rx="9" ry="6" transform="rotate(-15 369.6 888.8)" fill="none" stroke="#000" stroke-width="1.1"/>
<ellipse cx="369.6" cy="889.1" rx="7" ry="4.6" transform="rotate(-15 369.6 889.1)" fill="none" stroke="#000" stroke-width="0.7"/>
<ellipse cx="369.6" cy="889.1" rx="5.7" ry="3.7" transform="rotate(-15 369.6 889.1)" fill="none" stroke="#000" stroke-width="0.7"/>
<ellipse cx="369.6" cy="889.1" rx="4.4" ry="2.8" transform="rotate(-15 369.6 889.1)" fill="none" stroke="#000" stroke-width="0.7"/>
<ellipse cx="369.6" cy="889.1" rx="3.1" ry="1.9" transform="rotate(-15 369.6 889.1)" fill="none" stroke="#000" stroke-width="0.7"/>
<path d="M 309.9 885.1 C 317.1 890.6 328 894.2 333.4 901.4 C 337 906.9 335.2 912.3 329.8 912.3 L 311.7 910.5" fill="none" stroke="#000" stroke-width="1.0"/>
<path d="M 329.8 906.9 C 340.7 903.3 346.1 908.7 346.1 917.8 C 349.7 915.9 357 919.6 358.8 926.8 L 358.8 934.1" fill="none" stroke="#000" stroke-width="1.0"/>
<path d="M 311.7 910.5 L 328 905.1" fill="none" stroke="#000" stroke-width="1.0" stroke-dasharray="5.5 2.5"/>
<path d="M 328 926.8 L 346.1 917.8" fill="none" stroke="#000" stroke-width="1.0"/>
<path d="M 360.6 948.6 L 424 919.6" fill="none" stroke="#000" stroke-width="1.0" stroke-dasharray="5.5 2.5"/>
<path d="M 378.7 944.9 L 422.2 919.6" fill="none" stroke="#000" stroke-width="1.0"/>
<path d="M 360.6 948.6 L 371.4 943.1 L 395 959.4 L 389.6 964.9 L 360.6 948.6" fill="none" stroke="#000" stroke-width="1.0"/>
<path d="M 395 959.4 C 404.1 954 414.9 952.2 422.2 957.6 L 425.8 959.4" fill="none" stroke="#000" stroke-width="1.0"/>
<path d="M 409.5 890.6 C 407.7 897.8 409.5 905.1 411.3 908.7 C 413.1 912.3 418.6 915.9 424 919.6" fill="none" stroke="#000" stroke-width="1.0"/>
<path d="M 409.5 890.6 L 422.2 885.1 L 431.2 896" fill="none" stroke="#000" stroke-width="1.0"/>
<path d="M 422.2 867 L 422.2 885.1" fill="none" stroke="#000" stroke-width="1.0"/>
<path d="M 443.9 845.3 L 458.4 838" fill="none" stroke="#000" stroke-width="1.0"/>
<path d="M 443.9 868.8 L 456.6 863.4 C 462 865.2 465.7 872.5 463.8 879.7 C 460.2 885.1 453 887 447.5 890.6" fill="none" stroke="#000" stroke-width="1.0"/>
<path d="M 443.9 930.4 L 458.4 923.2 C 463.8 926.8 465.7 934.1 463.8 941.3 C 462 946.7 454.8 948.6 449.3 950.4 L 449.3 970.3" fill="none" stroke="#000" stroke-width="1.0"/>
<path d="M 445.7 890.6 L 451.2 892.4 L 451.2 970.3" fill="none" stroke="#000" stroke-width="1.0"/>
<path d="M 460.2 800 L 460.2 838" fill="none" stroke="#000" stroke-width="1.0"/>
<path d="M 443.9 841.7 L 458.4 836.2" fill="none" stroke="#000" stroke-width="1.0" stroke-dasharray="5.5 2.5"/>
<path d="M 442.1 917.8 L 458.4 908.7" fill="none" stroke="#000" stroke-width="1.0"/>
<path d="M 460.2 845.3 C 462 832.6 465.7 818.1 474.7 807.2 C 482 803.6 485.6 814.5 487.4 827.2 C 489.2 839.9 482 848.9 471.1 852.5 C 465.7 853.4 462 850.7 460.2 845.3 Z" fill="none" stroke="#000" stroke-width="1.0" stroke-dasharray="5.5 2.5"/>
<path d="M 460.2 845.3 C 462 834.4 465.7 821.7 472.9 810.9" fill="none" stroke="#000" stroke-width="1.0"/>
<path d="M 491 800 C 489.2 805.4 491 809.1 498.3 810.9 L 510.9 805.4 L 516.4 800" fill="none" stroke="#000" stroke-width="1.0" stroke-dasharray="5.5 2.5"/>
<path d="M 494.6 800 C 494.6 803.6 496.4 807.2 498.3 807.2" fill="none" stroke="#000" stroke-width="1.0"/>
<ellipse cx="542.6" cy="861.6" rx="9" ry="11" transform="rotate(25 542.6 861.6)" fill="#fff" stroke="#000" stroke-width="1.1"/>
<ellipse cx="493.7" cy="916.8" rx="11.5" ry="14" transform="rotate(25 493.7 916.8)" fill="#fff" stroke="#000" stroke-width="1.1"/>
<ellipse cx="542.6" cy="912.3" rx="9" ry="11" transform="rotate(25 542.6 912.3)" fill="#fff" stroke="#000" stroke-width="1.1"/>
<path d="M 532.7 865.2 C 534.5 870.7 538.1 872.5 541.7 872.1" fill="none" stroke="#000" stroke-width="1.0"/>
<path d="M 482 923.2 C 483.8 928.6 487.4 931.3 492.8 931.3" fill="none" stroke="#000" stroke-width="1.0"/>
<path d="M 534.5 915.9 C 536.3 920.5 538.1 923.2 542.6 923.2" fill="none" stroke="#000" stroke-width="1.0"/>
<path d="M 449.3 970.3 L 570 903.3" fill="none" stroke="#000" stroke-width="1.1" stroke-dasharray="14 3 3 3"/>
<ellipse cx="284.5" cy="852.5" rx="4.3" ry="5.6" transform="rotate(25 284.5 852.5)" fill="#fff" stroke="#000" stroke-width="1.1"/>
<ellipse cx="284.5" cy="852.5" rx="2.4" ry="3.5" transform="rotate(25 284.5 852.5)" fill="none" stroke="#000" stroke-width="0.8"/>
<ellipse cx="317.1" cy="926.8" rx="4.3" ry="5.6" transform="rotate(25 317.1 926.8)" fill="#fff" stroke="#000" stroke-width="1.1"/>
<ellipse cx="317.1" cy="926.8" rx="2.4" ry="3.5" transform="rotate(25 317.1 926.8)" fill="none" stroke="#000" stroke-width="0.8"/>
<ellipse cx="398.6" cy="974.8" rx="4.3" ry="5.6" transform="rotate(25 398.6 974.8)" fill="#fff" stroke="#000" stroke-width="1.1"/>
<ellipse cx="398.6" cy="974.8" rx="2.4" ry="3.5" transform="rotate(25 398.6 974.8)" fill="none" stroke="#000" stroke-width="0.8"/>
<ellipse cx="437.6" cy="940.4" rx="4.3" ry="5.6" transform="rotate(25 437.6 940.4)" fill="#fff" stroke="#000" stroke-width="1.1"/>
<ellipse cx="437.6" cy="940.4" rx="2.4" ry="3.5" transform="rotate(25 437.6 940.4)" fill="none" stroke="#000" stroke-width="0.8"/>
<ellipse cx="436.7" cy="881.5" rx="4.3" ry="5.6" transform="rotate(25 436.7 881.5)" fill="#fff" stroke="#000" stroke-width="1.1"/>
<ellipse cx="436.7" cy="881.5" rx="2.4" ry="3.5" transform="rotate(25 436.7 881.5)" fill="none" stroke="#000" stroke-width="0.8"/>
<ellipse cx="424.9" cy="819.9" rx="2.5" ry="3.5" transform="rotate(20 424.9 819.9)" fill="none" stroke="#000" stroke-width="1.0"/>
<path d="M313 852.9 L403.6 804.1" fill="none" stroke="#000" stroke-width="1.0" stroke-dasharray="5.5 2.5"/>
<path d="M292 862.6 L347.8 834.8" fill="none" stroke="#000" stroke-width="1.0" stroke-dasharray="5.5 2.5"/>
<path d="M349 835 L405 805" fill="none" stroke="#000" stroke-width="1.0"/>
<ellipse cx="302.2" cy="841.4" rx="10.5" ry="16" transform="rotate(22 302.2 841.4)" fill="#fff" stroke="#000" stroke-width="1.1"/>
<ellipse cx="304.5" cy="840" rx="6.2" ry="11.5" transform="rotate(22 304.5 840)" fill="none" stroke="#000" stroke-width="1.0"/>
<path d="M338 836 C345 848 360 852 370 848 C376 845 378 835 372 826" fill="none" stroke="#000" stroke-width="1.0"/>
<path d="M570 903.3 L611.7 879.7" fill="none" stroke="#000" stroke-width="1.1" stroke-dasharray="9 3"/>
<path d="M 579.1 899.6 C 582.7 904.2 588.1 905.1 593.6 904.7 C 600.8 904.2 605.3 901.4 605.3 894.2 L 605.3 883.3" fill="none" stroke="#000" stroke-width="1.0" stroke-dasharray="5.5 2.5"/>
<ellipse cx="619.8" cy="866.1" rx="8.5" ry="10.5" transform="rotate(30 619.8 866.1)" fill="#fff" stroke="#000" stroke-width="1.1"/>
<path d="M 611.7 874.3 C 613.5 877 616.2 878.3 618.9 877.5" fill="none" stroke="#000" stroke-width="1.0"/>
<path d="M628 870.7 L645.2 859.8" fill="none" stroke="#000" stroke-width="1.0"/>
<path d="M645.2 855.3 L645.2 878.3" fill="none" stroke="#000" stroke-width="1.0"/>
<path d="M 628 870.7 L 642.5 877.9 Q 646.1 879.7 651.5 877" fill="none" stroke="#000" stroke-width="1.0"/>
<path d="M651.5 877 L668.7 867" fill="none" stroke="#000" stroke-width="1.0" stroke-dasharray="5.5 2.5"/>
<path d="M684.1 858.9 L714.9 840.8" fill="none" stroke="#000" stroke-width="1.1"/>
<path d="M687.8 841.7 L714.9 838.9 L731.2 836.2 L778.3 808.2" fill="none" stroke="#000" stroke-width="1.0" stroke-dasharray="5.5 2.5"/>
<path d="M733 832.6 L791 800" fill="none" stroke="#000" stroke-width="1.0" stroke-dasharray="9 3"/>
<path d="M740.3 818.1 L774.7 800" fill="none" stroke="#000" stroke-width="1.0"/>
<path d="M 664.2 863.4 C 660.6 858 661.5 848.9 666 841.7 C 668.7 837.1 673.3 834.4 675.1 832.6" fill="none" stroke="#000" stroke-width="1.0"/>
<path d="M 678.7 866.1 C 684.1 862.5 687.8 858 688.7 850.7 C 689.6 845.3 687.8 841.7 685.9 840.8" fill="none" stroke="#000" stroke-width="1.0"/>
<ellipse cx="676" cy="853.4" rx="9.5" ry="12" transform="rotate(28 676 853.4)" fill="#fff" stroke="#000" stroke-width="1.1"/>
<ellipse cx="676.3" cy="853.4" rx="7" ry="9.5" transform="rotate(28 676.3 853.4)" fill="none" stroke="#000" stroke-width="0.7"/>
<ellipse cx="676.3" cy="853.4" rx="5.8" ry="7.8" transform="rotate(28 676.3 853.4)" fill="none" stroke="#000" stroke-width="0.7"/>
<ellipse cx="676.3" cy="853.4" rx="4.6" ry="6.1" transform="rotate(28 676.3 853.4)" fill="none" stroke="#000" stroke-width="0.7"/>
<ellipse cx="676.3" cy="853.4" rx="3.4" ry="4.4" transform="rotate(28 676.3 853.4)" fill="none" stroke="#000" stroke-width="0.7"/>
<path d="M 647.9 800 C 651.5 810.9 660.6 821.7 676.9 831.7" fill="none" stroke="#000" stroke-width="1.1"/>
<path d="M 676.9 831.7 C 682.3 834.4 685.9 836.2 687.8 841.7" fill="none" stroke="#000" stroke-width="1.0" stroke-dasharray="5.5 2.5"/>
<path d="M 666 803.6 C 671.4 810.9 678.7 814.5 685.9 810.9 C 689.6 816.3 693.2 825.4 696.8 827.2 C 704.1 829 707.7 821.7 707.7 814.5 C 711.3 807.2 714.9 803.6 716.7 800" fill="none" stroke="#000" stroke-width="1.0"/>
<path d="M 711.3 827.2 C 714.9 818.1 722.2 812.7 729.4 814.5 L 740.3 810.9 L 742.1 800" fill="none" stroke="#000" stroke-width="1.0"/>
<path d="M 711.3 827.2 C 714.9 830.8 724 829.9 733 825.4" fill="none" stroke="#000" stroke-width="1.0"/>
<path d="M 664.2 800 L 671.4 807.2 L 682.3 803.6 L 687.8 800" fill="none" stroke="#000" stroke-width="1.0"/>
<path d="M 742.1 814.5 L 772.9 800" fill="none" stroke="#000" stroke-width="1.0" stroke-dasharray="5.5 2.5"/>
<ellipse cx="712.2" cy="809.1" rx="3.8" ry="5" transform="rotate(25 712.2 809.1)" fill="none" stroke="#000" stroke-width="1.0"/>
<ellipse cx="682.3" cy="821.7" rx="4" ry="5.5" transform="rotate(25 682.3 821.7)" fill="#fff" stroke="#000" stroke-width="1.1"/>
<ellipse cx="682.3" cy="821.7" rx="2.2" ry="3.4" transform="rotate(25 682.3 821.7)" fill="none" stroke="#000" stroke-width="0.8"/>
<ellipse cx="730.3" cy="824.5" rx="4" ry="5.5" transform="rotate(25 730.3 824.5)" fill="#fff" stroke="#000" stroke-width="1.1"/>
<ellipse cx="730.3" cy="824.5" rx="2.2" ry="3.4" transform="rotate(25 730.3 824.5)" fill="none" stroke="#000" stroke-width="0.8"/>
<path d="M778.3 808.2 L825.4 870.5 L904.6 870.5" fill="none" stroke="#000" stroke-width="1.1"/>
<path d="M458.8 428.5 L462.1 428.5 L466.4 428.4 L471.4 428.3 L477.1 428.3 L483.1 428.2 L489.4 428.2 L495.6 428.3 L501.6 428.4 L507.2 428.7 L512.2 429.2 L516.7 429.8 L521.2 430.5 L525.6 431.3 L529.8 432.1 L533.9 433.1 L537.9 434.2 L541.8 435.3 L545.6 436.5 L549.3 437.8 L552.9 439.1 L556.4 440.5 L559.7 442 L562.9 443.5 L566 445.2 L569 446.9 L571.9 448.7 L574.9 450.5 L577.8 452.4 L580.7 454.3 L583.6 456.2 L586.5 458.2 L589.4 460.2 L592.2 462.2 L595 464.3 L597.7 466.4 L600.4 468.6 L603 470.8 L605.6 473 L608.1 475.2 L610.5 477.5 L612.8 479.8 L615.1 482.1 L617.2 484.4 L619.4 486.8 L621.4 489.2 L623.4 491.6 L625.4 494.1 L627.4 496.6 L629.3 499.2 L631.2 501.9 L633 504.6 L634.9 507.3 L636.7 510.1 L638.4 512.9 L640.1 515.8 L641.8 518.7 L643.4 521.6 L644.9 524.6 L646.4 527.5 L647.8 530.5 L649.1 533.5 L650.4 536.5 L651.5 539.5 L652.7 542.6 L653.7 545.7 L654.7 548.8 L655.7 551.9 L656.7 555 L657.5 558.1 L658.4 561.2 L659.2 564.3 L660 567.4 L660.8 570.6 L661.4 573.7 L662.1 576.8 L662.7 579.9 L663.3 583 L663.8 586.1 L664.3 589.2 L664.8 592.3 L665.3 595.4 L665.7 598.8 L666.1 602.2 L666.4 605.7 L666.8 609.1 L667 612.4 L667.3 615.4 L667.5 618.1 L667.7 620.4 L667.9 622.2 L672.5 621.8 L672.4 620 L672.2 617.8 L672.1 615 L671.9 612 L671.6 608.7 L671.4 605.3 L671.1 601.7 L670.7 598.2 L670.4 594.8 L670 591.5 L669.5 588.4 L669.1 585.3 L668.6 582.1 L668 578.9 L667.5 575.8 L666.9 572.6 L666.2 569.4 L665.5 566.2 L664.8 563 L664 559.8 L663.2 556.6 L662.3 553.4 L661.4 550.2 L660.5 547 L659.5 543.8 L658.4 540.6 L657.3 537.4 L656.2 534.2 L654.9 531 L653.6 527.9 L652.2 524.8 L650.7 521.7 L649.2 518.6 L647.5 515.6 L645.9 512.5 L644.1 509.5 L642.4 506.5 L640.6 503.6 L638.7 500.7 L636.8 497.9 L634.9 495.2 L633 492.5 L631.1 489.8 L629 487.2 L627 484.6 L624.9 482 L622.7 479.5 L620.4 477 L618.1 474.6 L615.7 472.1 L613.2 469.7 L610.7 467.3 L608 465 L605.3 462.6 L602.6 460.4 L599.8 458.1 L596.9 455.9 L594 453.7 L591.1 451.6 L588.2 449.6 L585.2 447.6 L582.3 445.6 L579.4 443.6 L576.3 441.6 L573.2 439.7 L570.1 437.8 L566.8 436 L563.3 434.3 L559.8 432.6 L556.1 431.1 L552.3 429.6 L548.4 428.2 L544.4 426.9 L540.3 425.7 L536.1 424.5 L531.8 423.4 L527.4 422.4 L522.8 421.5 L518.1 420.7 L513.2 420 L507.9 419.5 L502 419.1 L495.8 418.9 L489.5 418.7 L483.1 418.7 L477 418.7 L471.3 418.7 L466.3 418.7 L462.1 418.7 L458.8 418.7Z" fill="#000" stroke="none"/>
<path d="M666.6 623.5 L679.2 620.6 L671.6 633.2Z" fill="#000" stroke="#000" stroke-width="0.8" stroke-linejoin="miter"/>
<text x="26.12" y="74" font-family="Liberation Sans" font-weight="normal" font-size="61.43" fill="#000" stroke="#000" stroke-width="1.3" transform="translate(26.12 0) scale(0.790 1) translate(-26.12 0)">D26000</text>
<text x="221.34" y="48.3" font-family="Liberation Serif" font-weight="bold" font-size="43.94" fill="#000" transform="translate(221.34 0) scale(0.981 1) translate(-221.34 0)">RĂNG NÓN, DẦY</text>
<text x="219.86" y="90.5" font-family="Liberation Sans" font-weight="bold" font-size="43.14" fill="#000" transform="translate(219.86 0) scale(1.007 1) translate(-219.86 0)">BEVEL GEAR</text>
<text x="1494.00" y="1144.8" font-family="Liberation Sans" font-weight="normal" font-size="28.14" fill="#000" transform="translate(1494.00 0) scale(0.991 1) translate(-1494.00 0)">A:M6040SU</text>
<text x="104.52" y="1040.1" font-family="Liberation Sans" font-weight="normal" font-size="16.57" fill="#000" transform="translate(104.52 0) scale(1.019 1) translate(-104.52 0)">3C301-039-12</text>
<path d="M855 521 L884 504" fill="none" stroke="#000" stroke-width="1.0"/>
<path d="M915 477.5 L924 472.5" fill="none" stroke="#000" stroke-width="1.0"/>
<path d="M952.2 458.3 L985 440" fill="none" stroke="#000" stroke-width="1.0"/>
<path d="M906.7 429.2 L908.9 428.2 L911.4 427.6 L914 427.6 L916.8 427.9 L919.8 428.8 L922.8 430 L926 431.7 L929.1 433.8 L932.3 436.3 L935.5 439.1 L938.6 442.3 L941.6 445.8 L944.4 449.5 L947.1 453.4 L949.6 457.5 L951.9 461.7 L954 466 L955.8 470.4 L957.3 474.7 L958.5 479 L959.4 483.1 L959.9 487.1 L960.1 490.9 L960 494.5 L959.6 497.8 L958.8 500.7 L957.8 503.3 L956.4 505.6 L954.7 507.4 L952.7 508.8 L938 517.3 L935.8 518.3 L933.4 518.9 L930.7 518.9 L927.9 518.6 L925 517.8 L921.9 516.5 L918.8 514.8 L915.6 512.7 L912.4 510.2 L909.2 507.4 L906.2 504.2 L903.2 500.7 L900.3 497 L897.6 493.1 L895.1 489 L892.8 484.8 L890.7 480.5 L888.9 476.1 L887.4 471.8 L886.2 467.5 L885.4 463.4 L884.8 459.4 L884.6 455.6 L884.7 452 L885.1 448.8 L885.9 445.8 L887 443.2 L888.4 440.9 L890 439.1 L892 437.7Z" fill="#fff" stroke="#000" stroke-width="1.5"/>
<ellipse cx="915" cy="477.5" rx="46" ry="23" transform="rotate(60 915 477.5)" fill="#fff" stroke="#000" stroke-width="1.5"/>
<ellipse cx="915" cy="477.5" rx="39.6" ry="19.8" transform="rotate(60 915 477.5)" fill="none" stroke="#000" stroke-width="1.0"/>
<ellipse cx="915.5" cy="477.5" rx="36.8" ry="18.4" transform="rotate(60 915.5 477.5)" fill="none" stroke="#000" stroke-width="0.9"/>
<ellipse cx="915" cy="477.5" rx="28.5" ry="14.3" transform="rotate(60 915 477.5)" fill="none" stroke="#000" stroke-width="1.0"/>
<ellipse cx="915" cy="477.5" rx="23" ry="11.5" transform="rotate(60 915 477.5)" fill="none" stroke="#000" stroke-width="1.1"/>
<path d="M898 480.7 L895.4 481.2" fill="none" stroke="#000" stroke-width="0.9"/>
<path d="M893.5 456.8 L890.2 453.6" fill="none" stroke="#000" stroke-width="0.9"/>
<path d="M904.3 447.7 L902.7 443.2" fill="none" stroke="#000" stroke-width="0.9"/>
<path d="M922.8 459.9 L924 457.2" fill="none" stroke="#000" stroke-width="0.9"/>
<path d="M935.7 484.7 L938.9 485.8" fill="none" stroke="#000" stroke-width="0.9"/>
<path d="M933.8 504.3 L936.7 508.4" fill="none" stroke="#000" stroke-width="0.9"/>
<path d="M918.5 504.8 L919 509" fill="none" stroke="#000" stroke-width="0.9"/>
<ellipse cx="928.3" cy="469.9" rx="23" ry="11.5" transform="rotate(60 928.3 469.9)" fill="none" stroke="#000" stroke-width="0.9"/>
<path d="M978.1 412.6 L979.5 411.9 L981.1 411.5 L982.8 411.3 L984.6 411.4 L986.5 411.8 L988.4 412.4 L990.4 413.3 L992.4 414.4 L994.3 415.8 L996.2 417.4 L998.1 419.1 L999.9 421.1 L1001.6 423.2 L1003.2 425.5 L1004.6 427.8 L1006 430.3 L1007.1 432.8 L1008.1 435.3 L1008.9 437.8 L1009.5 440.3 L1009.9 442.8 L1010.1 445.1 L1010.1 447.4 L1009.9 449.5 L1009.5 451.5 L1008.8 453.3 L1008 455 L1007.1 456.4 L1005.9 457.5 L1004.6 458.4 L1000.2 460.9 L998.8 461.6 L997.2 462 L995.5 462.2 L993.7 462.1 L991.8 461.7 L989.9 461.1 L987.9 460.2 L986 459.1 L984 457.7 L982.1 456.1 L980.2 454.4 L978.4 452.4 L976.7 450.3 L975.1 448 L973.7 445.7 L972.4 443.2 L971.2 440.7 L970.2 438.2 L969.5 435.7 L968.8 433.2 L968.4 430.7 L968.2 428.4 L968.2 426.1 L968.5 424 L968.9 422 L969.5 420.2 L970.3 418.5 L971.3 417.1 L972.4 416 L973.8 415.1Z" fill="#fff" stroke="#000" stroke-width="1.4"/>
<ellipse cx="987" cy="438" rx="26.5" ry="15.4" transform="rotate(60 987 438)" fill="#fff" stroke="#000" stroke-width="1.4"/>
<ellipse cx="987" cy="438" rx="20.5" ry="11.9" transform="rotate(60 987 438)" fill="none" stroke="#000" stroke-width="1.0"/>
<ellipse cx="987" cy="438" rx="18.5" ry="10.7" transform="rotate(60 987 438)" fill="none" stroke="#000" stroke-width="1.0"/>
<path d="M915 477.5 L886 494.5" fill="none" stroke="#000" stroke-width="1.0"/>
<text x="841.89" y="368.2" font-family="Liberation Sans" font-weight="normal" font-size="27.29" fill="#000" transform="translate(841.89 0) scale(1.016 1) translate(-841.89 0)">040</text>
<text x="926.09" y="331.7" font-family="Liberation Sans" font-weight="normal" font-size="26.71" fill="#000" transform="translate(926.09 0) scale(1.038 1) translate(-926.09 0)">050</text>
<path d="M870.1 374.2 L902.1 434.3" fill="none" stroke="#000" stroke-width="1.0"/>
<path d="M949.8 339.1 L978.3 411.2" fill="none" stroke="#000" stroke-width="1.0"/>
<path d="M1206.1 289.5 L1206.1 281.4 L1212.4 277.3 L1212.8 272.3 L1216.5 271.1 L1219.8 276 L1225.6 276.9 L1226.4 272.3 L1230.6 269.8 L1236.4 266.9 L1243.8 264 L1254.6 261.4 L1256.2 264.9 L1262.8 265.3 L1265.7 268.6 L1267 275.6 L1272.8 278.1 L1273.6 282.3 L1271.5 284.7 L1275.3 292.2 L1274.4 295.5 L1270.3 300.5 L1267 307.1 L1262 313.7 L1254.6 319.5 L1247.9 325.7 L1246.7 323.6 L1243 322 L1238 328.6 L1233 327.8 L1231.4 322 L1225.6 323.5 Z" fill="#fff" stroke="#000" stroke-width="1.4"/>
<path d="M1231.4 279.8 Q1247.5500000000002 274.55 1263.7 272.3" fill="none" stroke="#000" stroke-width="1.6"/>
<path d="M1233 282 Q1249.25 276.5 1265.5 274" fill="none" stroke="#000" stroke-width="0.9"/>
<path d="M1238 285.6 Q1255.4 280.8 1272.8 279" fill="none" stroke="#000" stroke-width="1.6"/>
<path d="M1240 288 Q1256.75 284.0 1273.5 283" fill="none" stroke="#000" stroke-width="0.9"/>
<path d="M1243 293.8 Q1258.7 291.1 1274.4 291.4" fill="none" stroke="#000" stroke-width="1.5"/>
<path d="M1248 301.3 Q1261.0 296.5 1274 294.7" fill="none" stroke="#000" stroke-width="1.5"/>
<path d="M1251 307.9 Q1261.1 302.29999999999995 1271.2 299.7" fill="none" stroke="#000" stroke-width="1.2"/>
<path d="M1253 312 Q1260.5 306.5 1268 304" fill="none" stroke="#000" stroke-width="0.9"/>
<path d="M1206.1 289.5 L1219 282.3 C1233 284.7 1243 298.8 1242.2 311.2 C1241.4 315.4 1239.7 316.2 1238 317 L1231.4 322" fill="none" stroke="#000" stroke-width="1.1"/>
<path d="M1243 286 L1246 290" fill="none" stroke="#000" stroke-width="0.9"/>
<path d="M1253 305 L1255 309.5" fill="none" stroke="#000" stroke-width="0.9"/>
<path d="M1207.1 288.7 L1208.1 288.2 L1209.2 287.9 L1210.4 287.9 L1211.6 288 L1212.9 288.3 L1214.3 288.7 L1215.7 289.4 L1217.1 290.3 L1218.4 291.3 L1219.8 292.4 L1221.1 293.7 L1222.4 295.1 L1223.6 296.7 L1224.8 298.3 L1225.8 300 L1226.8 301.8 L1227.6 303.6 L1228.3 305.4 L1228.9 307.2 L1229.4 309 L1229.7 310.8 L1229.9 312.5 L1229.9 314.1 L1229.8 315.6 L1229.6 317.1 L1229.2 318.3 L1228.6 319.5 L1228 320.5 L1227.2 321.3 L1226.3 321.9 L1112 387.9 L1111 388.4 L1109.9 388.7 L1108.7 388.7 L1107.4 388.6 L1106.1 388.3 L1104.8 387.9 L1103.4 387.2 L1102 386.3 L1100.6 385.3 L1099.3 384.2 L1097.9 382.9 L1096.6 381.5 L1095.4 379.9 L1094.3 378.3 L1093.2 376.6 L1092.3 374.8 L1091.4 373 L1090.7 371.2 L1090.1 369.4 L1089.7 367.6 L1089.3 365.8 L1089.2 364.1 L1089.1 362.5 L1089.2 361 L1089.5 359.5 L1089.9 358.3 L1090.4 357.1 L1091.1 356.1 L1091.9 355.3 L1092.8 354.7Z" fill="#fff" stroke="#000" stroke-width="1.4"/>
<path d="M1103.6 348.4 L1104.6 348 L1105.7 347.7 L1106.9 347.6 L1108.1 347.7 L1109.5 348 L1110.8 348.5 L1112.2 349.2 L1113.6 350 L1115 351 L1116.3 352.2 L1117.6 353.5 L1118.9 354.9 L1120.1 356.4 L1121.3 358.1 L1122.3 359.8 L1123.3 361.5 L1124.1 363.3 L1124.9 365.2 L1125.5 367 L1125.9 368.8 L1126.2 370.6 L1126.4 372.3 L1126.5 373.9 L1126.3 375.4 L1126.1 376.8 L1125.7 378.1 L1125.2 379.2 L1124.5 380.2 L1123.7 381 L1122.8 381.7" fill="none" stroke="#000" stroke-width="2.2"/>
<path d="M1101.9 348.5 L1102.9 348 L1104.1 347.7 L1105.3 347.6 L1106.6 347.7 L1108 348.1 L1109.4 348.6 L1110.8 349.2 L1112.3 350.1 L1113.7 351.2 L1115.1 352.4 L1116.5 353.7 L1117.9 355.2 L1119.1 356.8 L1120.3 358.5 L1121.4 360.3 L1122.4 362.1 L1123.3 364 L1124 365.9 L1124.7 367.8 L1125.1 369.7 L1125.5 371.5 L1125.7 373.3 L1125.7 375 L1125.6 376.6 L1125.3 378.1 L1124.9 379.4 L1124.4 380.6 L1123.7 381.6 L1122.8 382.5 L1121.9 383.1 L1101.1 395.1 L1100.1 395.6 L1098.9 395.9 L1097.7 396 L1096.4 395.9 L1095 395.6 L1093.6 395 L1092.2 394.4 L1090.7 393.5 L1089.3 392.4 L1087.9 391.2 L1086.5 389.9 L1085.1 388.4 L1083.9 386.8 L1082.7 385.1 L1081.6 383.3 L1080.6 381.5 L1079.7 379.6 L1079 377.7 L1078.3 375.8 L1077.9 373.9 L1077.5 372.1 L1077.3 370.3 L1077.3 368.6 L1077.4 367 L1077.7 365.6 L1078.1 364.2 L1078.7 363 L1079.4 362 L1080.2 361.1 L1081.1 360.5Z" fill="#fff" stroke="#000" stroke-width="1.3"/>
<path d="M1085.4 358 L1086.5 357.5 L1087.6 357.2 L1088.9 357.1 L1090.2 357.2 L1091.5 357.6 L1093 358.1 L1094.4 358.7 L1095.8 359.6 L1097.3 360.7 L1098.7 361.9 L1100.1 363.2 L1101.4 364.7 L1102.7 366.3 L1103.9 368 L1105 369.8 L1106 371.6 L1106.8 373.5 L1107.6 375.4 L1108.2 377.3 L1108.7 379.2 L1109 381 L1109.2 382.8 L1109.2 384.5 L1109.1 386.1 L1108.9 387.6 L1108.5 388.9 L1107.9 390.1 L1107.2 391.1 L1106.4 392 L1105.4 392.6" fill="none" stroke="#000" stroke-width="0.8"/>
<path d="M1088 356.5 L1089.1 356 L1090.2 355.7 L1091.5 355.6 L1092.8 355.7 L1094.1 356.1 L1095.6 356.6 L1097 357.2 L1098.4 358.1 L1099.9 359.2 L1101.3 360.4 L1102.7 361.7 L1104 363.2 L1105.3 364.8 L1106.5 366.5 L1107.6 368.3 L1108.6 370.1 L1109.4 372 L1110.2 373.9 L1110.8 375.8 L1111.3 377.7 L1111.6 379.5 L1111.8 381.3 L1111.8 383 L1111.7 384.6 L1111.5 386.1 L1111.1 387.4 L1110.5 388.6 L1109.8 389.6 L1109 390.5 L1108 391.1" fill="none" stroke="#000" stroke-width="0.8"/>
<path d="M1090.6 355 L1091.7 354.5 L1092.8 354.2 L1094.1 354.1 L1095.4 354.2 L1096.7 354.6 L1098.1 355.1 L1099.6 355.7 L1101 356.6 L1102.5 357.7 L1103.9 358.9 L1105.3 360.2 L1106.6 361.7 L1107.9 363.3 L1109.1 365 L1110.2 366.8 L1111.2 368.6 L1112 370.5 L1112.8 372.4 L1113.4 374.3 L1113.9 376.2 L1114.2 378 L1114.4 379.8 L1114.4 381.5 L1114.3 383.1 L1114.1 384.6 L1113.7 385.9 L1113.1 387.1 L1112.4 388.1 L1111.6 389 L1110.6 389.6" fill="none" stroke="#000" stroke-width="0.8"/>
<path d="M1093.2 353.5 L1094.3 353 L1095.4 352.7 L1096.7 352.6 L1098 352.7 L1099.3 353.1 L1100.7 353.6 L1102.2 354.2 L1103.6 355.1 L1105.1 356.2 L1106.5 357.4 L1107.9 358.7 L1109.2 360.2 L1110.5 361.8 L1111.7 363.5 L1112.8 365.3 L1113.8 367.1 L1114.6 369 L1115.4 370.9 L1116 372.8 L1116.5 374.7 L1116.8 376.5 L1117 378.3 L1117 380 L1116.9 381.6 L1116.7 383.1 L1116.2 384.4 L1115.7 385.6 L1115 386.6 L1114.2 387.5 L1113.2 388.1" fill="none" stroke="#000" stroke-width="0.8"/>
<path d="M1095.8 352 L1096.9 351.5 L1098 351.2 L1099.3 351.1 L1100.6 351.2 L1101.9 351.6 L1103.3 352.1 L1104.8 352.7 L1106.2 353.6 L1107.7 354.7 L1109.1 355.9 L1110.5 357.2 L1111.8 358.7 L1113.1 360.3 L1114.3 362 L1115.4 363.8 L1116.4 365.6 L1117.2 367.5 L1118 369.4 L1118.6 371.3 L1119.1 373.2 L1119.4 375 L1119.6 376.8 L1119.6 378.5 L1119.5 380.1 L1119.3 381.6 L1118.8 382.9 L1118.3 384.1 L1117.6 385.1 L1116.8 386 L1115.8 386.6" fill="none" stroke="#000" stroke-width="0.8"/>
<path d="M1098.4 350.5 L1099.5 350 L1100.6 349.7 L1101.9 349.6 L1103.2 349.7 L1104.5 350.1 L1105.9 350.6 L1107.4 351.2 L1108.8 352.1 L1110.3 353.2 L1111.7 354.4 L1113.1 355.7 L1114.4 357.2 L1115.7 358.8 L1116.9 360.5 L1118 362.3 L1119 364.1 L1119.8 366 L1120.6 367.9 L1121.2 369.8 L1121.7 371.7 L1122 373.5 L1122.2 375.3 L1122.2 377 L1122.1 378.6 L1121.9 380.1 L1121.4 381.4 L1120.9 382.6 L1120.2 383.6 L1119.4 384.5 L1118.4 385.1" fill="none" stroke="#000" stroke-width="0.8"/>
<path d="M1081.2 358.7 L1082.4 358.2 L1083.6 357.9 L1084.9 357.8 L1086.3 357.9 L1087.8 358.2 L1089.3 358.8 L1090.8 359.5 L1092.4 360.4 L1093.9 361.6 L1095.5 362.9 L1097 364.3 L1098.4 365.9 L1099.8 367.6 L1101 369.5 L1102.2 371.4 L1103.3 373.4 L1104.2 375.4 L1105 377.4 L1105.7 379.5 L1106.2 381.5 L1106.6 383.5 L1106.8 385.4 L1106.8 387.2 L1106.7 388.9 L1106.4 390.5 L1106 391.9 L1105.4 393.2 L1104.6 394.3 L1103.7 395.2 L1102.7 395.9 L1087.1 404.9 L1086 405.4 L1084.8 405.7 L1083.5 405.8 L1082 405.7 L1080.6 405.4 L1079.1 404.8 L1077.5 404.1 L1076 403.2 L1074.4 402 L1072.9 400.7 L1071.4 399.3 L1070 397.7 L1068.6 396 L1067.3 394.1 L1066.2 392.2 L1065.1 390.2 L1064.1 388.2 L1063.3 386.2 L1062.7 384.1 L1062.1 382.1 L1061.8 380.1 L1061.6 378.2 L1061.6 376.4 L1061.7 374.7 L1062 373.1 L1062.4 371.7 L1063 370.4 L1063.7 369.3 L1064.6 368.4 L1065.6 367.7Z" fill="#fff" stroke="#000" stroke-width="1.3"/>
<path d="M1067.4 366.7 L1068.5 366.2 L1069.7 365.9 L1071.1 365.8 L1072.5 365.9 L1073.9 366.2 L1075.4 366.8 L1077 367.5 L1078.5 368.4 L1080.1 369.6 L1081.6 370.9 L1083.1 372.3 L1084.5 373.9 L1085.9 375.6 L1087.2 377.5 L1088.4 379.4 L1089.4 381.4 L1090.4 383.4 L1091.2 385.4 L1091.9 387.5 L1092.4 389.5 L1092.7 391.5 L1092.9 393.4 L1093 395.2 L1092.8 396.9 L1092.6 398.5 L1092.1 399.9 L1091.5 401.2 L1090.8 402.3 L1089.9 403.2 L1088.9 403.9" fill="none" stroke="#000" stroke-width="1.1"/>
<path d="M1069 371.5 L1069.9 371.1 L1070.8 370.9 L1071.8 370.8 L1072.9 370.9 L1074 371.2 L1075.2 371.6 L1076.4 372.1 L1077.6 372.9 L1078.8 373.7 L1079.9 374.7 L1081.1 375.8 L1082.2 377.1 L1083.2 378.4 L1084.2 379.8 L1085.1 381.3 L1085.9 382.8 L1086.7 384.3 L1087.3 385.9 L1087.8 387.5 L1088.2 389 L1088.5 390.5 L1088.6 392 L1088.6 393.4 L1088.6 394.7 L1088.3 395.9 L1088 397 L1087.5 398 L1087 398.8 L1086.3 399.5 L1085.5 400.1 L1061.3 414.1 L1060.4 414.5 L1059.4 414.7 L1058.4 414.8 L1057.4 414.7 L1056.2 414.4 L1055.1 414 L1053.9 413.5 L1052.7 412.7 L1051.5 411.9 L1050.3 410.9 L1049.2 409.8 L1048.1 408.5 L1047 407.2 L1046.1 405.8 L1045.2 404.3 L1044.3 402.8 L1043.6 401.3 L1043 399.7 L1042.5 398.1 L1042.1 396.6 L1041.8 395.1 L1041.6 393.6 L1041.6 392.2 L1041.7 390.9 L1041.9 389.7 L1042.3 388.6 L1042.7 387.6 L1043.3 386.8 L1044 386.1 L1044.8 385.5Z" fill="#fff" stroke="#000" stroke-width="1.3"/>
<path d="M1046.1 385.9 L1046.9 385.5 L1047.8 385.3 L1048.8 385.2 L1049.8 385.3 L1050.9 385.5 L1051.9 385.9 L1053.1 386.5 L1054.2 387.2 L1055.3 388 L1056.4 388.9 L1057.5 389.9 L1058.5 391.1 L1059.5 392.3 L1060.4 393.7 L1061.3 395 L1062 396.5 L1062.7 397.9 L1063.3 399.4 L1063.8 400.9 L1064.1 402.3 L1064.4 403.7 L1064.5 405.1 L1064.6 406.4 L1064.5 407.7 L1064.3 408.8 L1064 409.8 L1063.5 410.7 L1063 411.5 L1062.4 412.2 L1061.6 412.7 L1030.5 430.7 L1029.6 431.1 L1028.7 431.3 L1027.8 431.4 L1026.8 431.3 L1025.7 431.1 L1024.6 430.7 L1023.5 430.1 L1022.4 429.4 L1021.3 428.6 L1020.2 427.7 L1019.1 426.7 L1018.1 425.5 L1017.1 424.3 L1016.2 422.9 L1015.3 421.6 L1014.5 420.1 L1013.9 418.7 L1013.3 417.2 L1012.8 415.7 L1012.4 414.3 L1012.2 412.9 L1012 411.5 L1012 410.2 L1012.1 408.9 L1012.3 407.8 L1012.6 406.8 L1013 405.9 L1013.6 405.1 L1014.2 404.4 L1015 403.9Z" fill="#fff" stroke="#000" stroke-width="1.3"/>
<path d="M1017.5 402.4 L1018.4 402 L1019.3 401.8 L1020.2 401.7 L1021.2 401.8 L1022.3 402 L1023.4 402.4 L1024.5 403 L1025.6 403.7 L1026.7 404.5 L1027.8 405.4 L1028.9 406.4 L1029.9 407.6 L1030.9 408.8 L1031.8 410.2 L1032.7 411.5 L1033.5 413 L1034.1 414.4 L1034.7 415.9 L1035.2 417.4 L1035.6 418.8 L1035.8 420.2 L1036 421.6 L1036 422.9 L1035.9 424.2 L1035.7 425.3 L1035.4 426.3 L1035 427.2 L1034.4 428 L1033.8 428.7 L1033 429.2" fill="none" stroke="#000" stroke-width="0.6"/>
<path d="M1019.3 401.4 L1020.1 401 L1021 400.8 L1021.9 400.7 L1023 400.8 L1024 401 L1025.1 401.4 L1026.2 402 L1027.3 402.7 L1028.4 403.5 L1029.5 404.4 L1030.6 405.4 L1031.7 406.6 L1032.6 407.8 L1033.6 409.2 L1034.4 410.5 L1035.2 412 L1035.9 413.4 L1036.4 414.9 L1036.9 416.4 L1037.3 417.8 L1037.6 419.2 L1037.7 420.6 L1037.7 421.9 L1037.6 423.2 L1037.4 424.3 L1037.1 425.3 L1036.7 426.2 L1036.1 427 L1035.5 427.7 L1034.8 428.2" fill="none" stroke="#000" stroke-width="0.6"/>
<path d="M1021 400.4 L1021.8 400 L1022.7 399.8 L1023.7 399.7 L1024.7 399.8 L1025.7 400 L1026.8 400.4 L1027.9 401 L1029.1 401.7 L1030.2 402.5 L1031.3 403.4 L1032.4 404.4 L1033.4 405.6 L1034.4 406.8 L1035.3 408.2 L1036.1 409.5 L1036.9 411 L1037.6 412.4 L1038.2 413.9 L1038.7 415.4 L1039 416.8 L1039.3 418.2 L1039.4 419.6 L1039.5 420.9 L1039.4 422.2 L1039.2 423.3 L1038.8 424.3 L1038.4 425.2 L1037.9 426 L1037.2 426.7 L1036.5 427.2" fill="none" stroke="#000" stroke-width="0.6"/>
<path d="M1022.7 399.4 L1023.6 399 L1024.4 398.8 L1025.4 398.7 L1026.4 398.8 L1027.5 399 L1028.6 399.4 L1029.7 400 L1030.8 400.7 L1031.9 401.5 L1033 402.4 L1034.1 403.4 L1035.1 404.6 L1036.1 405.8 L1037 407.2 L1037.9 408.5 L1038.6 410 L1039.3 411.4 L1039.9 412.9 L1040.4 414.4 L1040.8 415.8 L1041 417.2 L1041.2 418.6 L1041.2 419.9 L1041.1 421.2 L1040.9 422.3 L1040.6 423.3 L1040.1 424.2 L1039.6 425 L1039 425.7 L1038.2 426.2" fill="none" stroke="#000" stroke-width="0.6"/>
<path d="M1024.5 398.4 L1025.3 398 L1026.2 397.8 L1027.1 397.7 L1028.1 397.8 L1029.2 398 L1030.3 398.4 L1031.4 399 L1032.5 399.7 L1033.6 400.5 L1034.7 401.4 L1035.8 402.4 L1036.9 403.6 L1037.8 404.8 L1038.8 406.2 L1039.6 407.5 L1040.4 409 L1041.1 410.4 L1041.6 411.9 L1042.1 413.4 L1042.5 414.8 L1042.8 416.2 L1042.9 417.6 L1042.9 418.9 L1042.8 420.2 L1042.6 421.3 L1042.3 422.3 L1041.9 423.2 L1041.3 424 L1040.7 424.7 L1040 425.2" fill="none" stroke="#000" stroke-width="0.6"/>
<path d="M1026.2 397.4 L1027 397 L1027.9 396.8 L1028.9 396.7 L1029.9 396.8 L1030.9 397 L1032 397.4 L1033.1 398 L1034.3 398.7 L1035.4 399.5 L1036.5 400.4 L1037.6 401.4 L1038.6 402.6 L1039.6 403.8 L1040.5 405.2 L1041.3 406.5 L1042.1 408 L1042.8 409.4 L1043.4 410.9 L1043.9 412.4 L1044.2 413.8 L1044.5 415.2 L1044.6 416.6 L1044.7 417.9 L1044.6 419.2 L1044.4 420.3 L1044 421.3 L1043.6 422.2 L1043.1 423 L1042.4 423.7 L1041.7 424.2" fill="none" stroke="#000" stroke-width="0.6"/>
<path d="M1027.9 396.4 L1028.8 396 L1029.6 395.8 L1030.6 395.7 L1031.6 395.8 L1032.7 396 L1033.8 396.4 L1034.9 397 L1036 397.7 L1037.1 398.5 L1038.2 399.4 L1039.3 400.4 L1040.3 401.6 L1041.3 402.8 L1042.2 404.2 L1043.1 405.5 L1043.8 407 L1044.5 408.4 L1045.1 409.9 L1045.6 411.4 L1046 412.8 L1046.2 414.2 L1046.4 415.6 L1046.4 416.9 L1046.3 418.2 L1046.1 419.3 L1045.8 420.3 L1045.3 421.2 L1044.8 422 L1044.2 422.7 L1043.4 423.2" fill="none" stroke="#000" stroke-width="0.6"/>
<path d="M1029.7 395.4 L1030.5 395 L1031.4 394.8 L1032.3 394.7 L1033.3 394.8 L1034.4 395 L1035.5 395.4 L1036.6 396 L1037.7 396.7 L1038.8 397.5 L1039.9 398.4 L1041 399.4 L1042 400.6 L1043 401.8 L1044 403.2 L1044.8 404.5 L1045.6 406 L1046.3 407.4 L1046.8 408.9 L1047.3 410.4 L1047.7 411.8 L1048 413.2 L1048.1 414.6 L1048.1 415.9 L1048 417.2 L1047.8 418.3 L1047.5 419.3 L1047.1 420.2 L1046.5 421 L1045.9 421.7 L1045.2 422.2" fill="none" stroke="#000" stroke-width="0.6"/>
<path d="M1031.4 394.4 L1032.2 394 L1033.1 393.8 L1034.1 393.7 L1035.1 393.8 L1036.1 394 L1037.2 394.4 L1038.3 395 L1039.5 395.7 L1040.6 396.5 L1041.7 397.4 L1042.7 398.4 L1043.8 399.6 L1044.8 400.8 L1045.7 402.2 L1046.5 403.5 L1047.3 405 L1048 406.4 L1048.6 407.9 L1049.1 409.4 L1049.4 410.8 L1049.7 412.2 L1049.8 413.6 L1049.9 414.9 L1049.8 416.2 L1049.6 417.3 L1049.2 418.3 L1048.8 419.2 L1048.3 420 L1047.6 420.7 L1046.9 421.2" fill="none" stroke="#000" stroke-width="0.6"/>
<path d="M1033.1 393.4 L1034 393 L1034.8 392.8 L1035.8 392.7 L1036.8 392.8 L1037.9 393 L1039 393.4 L1040.1 394 L1041.2 394.7 L1042.3 395.5 L1043.4 396.4 L1044.5 397.4 L1045.5 398.6 L1046.5 399.8 L1047.4 401.2 L1048.3 402.5 L1049 404 L1049.7 405.4 L1050.3 406.9 L1050.8 408.4 L1051.2 409.8 L1051.4 411.2 L1051.6 412.6 L1051.6 413.9 L1051.5 415.2 L1051.3 416.3 L1051 417.3 L1050.5 418.2 L1050 419 L1049.4 419.7 L1048.6 420.2" fill="none" stroke="#000" stroke-width="0.6"/>
<path d="M1034.9 392.4 L1035.7 392 L1036.6 391.8 L1037.5 391.7 L1038.5 391.8 L1039.6 392 L1040.7 392.4 L1041.8 393 L1042.9 393.7 L1044 394.5 L1045.1 395.4 L1046.2 396.4 L1047.2 397.6 L1048.2 398.8 L1049.2 400.2 L1050 401.5 L1050.8 403 L1051.5 404.4 L1052 405.9 L1052.5 407.4 L1052.9 408.8 L1053.1 410.2 L1053.3 411.6 L1053.3 412.9 L1053.2 414.2 L1053 415.3 L1052.7 416.3 L1052.3 417.2 L1051.7 418 L1051.1 418.7 L1050.4 419.2" fill="none" stroke="#000" stroke-width="0.6"/>
<path d="M1036.6 391.4 L1037.4 391 L1038.3 390.8 L1039.3 390.7 L1040.3 390.8 L1041.3 391 L1042.4 391.4 L1043.5 392 L1044.7 392.7 L1045.8 393.5 L1046.9 394.4 L1047.9 395.4 L1049 396.6 L1050 397.8 L1050.9 399.2 L1051.7 400.5 L1052.5 402 L1053.2 403.4 L1053.8 404.9 L1054.2 406.4 L1054.6 407.8 L1054.9 409.2 L1055 410.6 L1055 411.9 L1055 413.2 L1054.8 414.3 L1054.4 415.3 L1054 416.2 L1053.5 417 L1052.8 417.7 L1052.1 418.2" fill="none" stroke="#000" stroke-width="0.6"/>
<path d="M1038.3 390.4 L1039.1 390 L1040 389.8 L1041 389.7 L1042 389.8 L1043.1 390 L1044.2 390.4 L1045.3 391 L1046.4 391.7 L1047.5 392.5 L1048.6 393.4 L1049.7 394.4 L1050.7 395.6 L1051.7 396.8 L1052.6 398.2 L1053.5 399.5 L1054.2 401 L1054.9 402.4 L1055.5 403.9 L1056 405.4 L1056.4 406.8 L1056.6 408.2 L1056.8 409.6 L1056.8 410.9 L1056.7 412.2 L1056.5 413.3 L1056.2 414.3 L1055.7 415.2 L1055.2 416 L1054.6 416.7 L1053.8 417.2" fill="none" stroke="#000" stroke-width="0.6"/>
<path d="M1040.1 389.4 L1040.9 389 L1041.8 388.8 L1042.7 388.7 L1043.7 388.8 L1044.8 389 L1045.9 389.4 L1047 390 L1048.1 390.7 L1049.2 391.5 L1050.3 392.4 L1051.4 393.4 L1052.4 394.6 L1053.4 395.8 L1054.3 397.2 L1055.2 398.5 L1056 400 L1056.6 401.4 L1057.2 402.9 L1057.7 404.4 L1058.1 405.8 L1058.3 407.2 L1058.5 408.6 L1058.5 409.9 L1058.4 411.2 L1058.2 412.3 L1057.9 413.3 L1057.5 414.2 L1056.9 415 L1056.3 415.7 L1055.6 416.2" fill="none" stroke="#000" stroke-width="0.6"/>
<path d="M1041.8 388.4 L1042.6 388 L1043.5 387.8 L1044.5 387.7 L1045.5 387.8 L1046.5 388 L1047.6 388.4 L1048.7 389 L1049.8 389.7 L1051 390.5 L1052.1 391.4 L1053.1 392.4 L1054.2 393.6 L1055.2 394.8 L1056.1 396.2 L1056.9 397.5 L1057.7 399 L1058.4 400.4 L1059 401.9 L1059.4 403.4 L1059.8 404.8 L1060.1 406.2 L1060.2 407.6 L1060.2 408.9 L1060.2 410.2 L1059.9 411.3 L1059.6 412.3 L1059.2 413.2 L1058.7 414 L1058 414.7 L1057.3 415.2" fill="none" stroke="#000" stroke-width="0.6"/>
<path d="M1043.5 387.4 L1044.3 387 L1045.2 386.8 L1046.2 386.7 L1047.2 386.8 L1048.3 387 L1049.3 387.4 L1050.5 388 L1051.6 388.7 L1052.7 389.5 L1053.8 390.4 L1054.9 391.4 L1055.9 392.6 L1056.9 393.8 L1057.8 395.2 L1058.7 396.5 L1059.4 398 L1060.1 399.4 L1060.7 400.9 L1061.2 402.4 L1061.5 403.8 L1061.8 405.2 L1062 406.6 L1062 407.9 L1061.9 409.2 L1061.7 410.3 L1061.4 411.3 L1060.9 412.2 L1060.4 413 L1059.8 413.7 L1059 414.2" fill="none" stroke="#000" stroke-width="0.6"/>
<path d="M1045.3 386.4 L1046.1 386 L1047 385.8 L1047.9 385.7 L1048.9 385.8 L1050 386 L1051.1 386.4 L1052.2 387 L1053.3 387.7 L1054.4 388.5 L1055.5 389.4 L1056.6 390.4 L1057.6 391.6 L1058.6 392.8 L1059.5 394.2 L1060.4 395.5 L1061.2 397 L1061.8 398.4 L1062.4 399.9 L1062.9 401.4 L1063.3 402.8 L1063.5 404.2 L1063.7 405.6 L1063.7 406.9 L1063.6 408.2 L1063.4 409.3 L1063.1 410.3 L1062.7 411.2 L1062.1 412 L1061.5 412.7 L1060.8 413.2" fill="none" stroke="#000" stroke-width="0.6"/>
<path d="M1025.3 397.9 L1026.2 397.5 L1027 397.3 L1028 397.2 L1029 397.3 L1030.1 397.5 L1031.2 397.9 L1032.3 398.5 L1033.4 399.2 L1034.5 400 L1035.6 400.9 L1036.7 401.9 L1037.7 403.1 L1038.7 404.3 L1039.6 405.7 L1040.5 407 L1041.2 408.5 L1041.9 409.9 L1042.5 411.4 L1043 412.9 L1043.4 414.3 L1043.6 415.7 L1043.8 417.1 L1043.8 418.4 L1043.7 419.7 L1043.5 420.8 L1043.2 421.8 L1042.7 422.7 L1042.2 423.5 L1041.6 424.2 L1040.8 424.7" fill="none" stroke="#000" stroke-width="1.3"/>
<path d="M1035.7 391.9 L1036.5 391.5 L1037.4 391.3 L1038.4 391.2 L1039.4 391.3 L1040.5 391.5 L1041.6 391.9 L1042.7 392.5 L1043.8 393.2 L1044.9 394 L1046 394.9 L1047.1 395.9 L1048.1 397.1 L1049.1 398.3 L1050 399.7 L1050.9 401 L1051.6 402.5 L1052.3 403.9 L1052.9 405.4 L1053.4 406.9 L1053.8 408.3 L1054 409.7 L1054.2 411.1 L1054.2 412.4 L1054.1 413.7 L1053.9 414.8 L1053.6 415.8 L1053.1 416.7 L1052.6 417.5 L1052 418.2 L1051.2 418.7" fill="none" stroke="#000" stroke-width="1.3"/>
<path d="M1017.8 402.4 L1047.2 385.4" fill="none" stroke="#000" stroke-width="0.45"/>
<path d="M1018.9 402.2 L1048.3 385.2" fill="none" stroke="#000" stroke-width="0.45"/>
<path d="M1020 402.3 L1049.5 385.3" fill="none" stroke="#000" stroke-width="0.45"/>
<path d="M1021.2 402.5 L1050.7 385.5" fill="none" stroke="#000" stroke-width="0.45"/>
<path d="M1022.5 402.9 L1051.9 385.9" fill="none" stroke="#000" stroke-width="0.45"/>
<path d="M1023.8 403.6 L1053.2 386.6" fill="none" stroke="#000" stroke-width="0.45"/>
<path d="M1025.1 404.4 L1054.5 387.4" fill="none" stroke="#000" stroke-width="0.45"/>
<path d="M1026.4 405.4 L1055.8 388.4" fill="none" stroke="#000" stroke-width="0.45"/>
<path d="M1027.7 406.6 L1057.1 389.6" fill="none" stroke="#000" stroke-width="0.45"/>
<path d="M1028.9 407.9 L1058.3 390.9" fill="none" stroke="#000" stroke-width="0.45"/>
<path d="M1030 409.3 L1059.5 392.3" fill="none" stroke="#000" stroke-width="0.45"/>
<path d="M1031.1 410.9 L1060.6 393.9" fill="none" stroke="#000" stroke-width="0.45"/>
<path d="M1032.1 412.5 L1061.5 395.5" fill="none" stroke="#000" stroke-width="0.45"/>
<path d="M1032.9 414.2 L1062.4 397.2" fill="none" stroke="#000" stroke-width="0.45"/>
<path d="M1033.7 415.9 L1063.1 398.9" fill="none" stroke="#000" stroke-width="0.45"/>
<path d="M1034.3 417.6 L1063.7 400.6" fill="none" stroke="#000" stroke-width="0.45"/>
<path d="M1034.7 419.3 L1064.1 402.3" fill="none" stroke="#000" stroke-width="0.45"/>
<path d="M1035 421 L1064.4 404" fill="none" stroke="#000" stroke-width="0.45"/>
<path d="M1035.1 422.6 L1064.6 405.6" fill="none" stroke="#000" stroke-width="0.45"/>
<path d="M1035.1 424 L1064.5 407" fill="none" stroke="#000" stroke-width="0.45"/>
<path d="M1034.9 425.4 L1064.4 408.4" fill="none" stroke="#000" stroke-width="0.45"/>
<path d="M1034.6 426.7 L1064 409.7" fill="none" stroke="#000" stroke-width="0.45"/>
<path d="M1034.1 427.7 L1063.5 410.7" fill="none" stroke="#000" stroke-width="0.45"/>
<path d="M1033.4 428.7 L1062.9 411.7" fill="none" stroke="#000" stroke-width="0.45"/>
<path d="M1046.1 385.9 L1046.9 385.5 L1047.8 385.3 L1048.8 385.2 L1049.8 385.3 L1050.9 385.5 L1051.9 385.9 L1053.1 386.5 L1054.2 387.2 L1055.3 388 L1056.4 388.9 L1057.5 389.9 L1058.5 391.1 L1059.5 392.3 L1060.4 393.7 L1061.3 395 L1062 396.5 L1062.7 397.9 L1063.3 399.4 L1063.8 400.9 L1064.1 402.3 L1064.4 403.7 L1064.5 405.1 L1064.6 406.4 L1064.5 407.7 L1064.3 408.8 L1064 409.8 L1063.5 410.7 L1063 411.5 L1062.4 412.2 L1061.6 412.7" fill="none" stroke="#000" stroke-width="1.0"/>
<ellipse cx="1022.7" cy="417.3" rx="15.5" ry="8.5" transform="rotate(60 1022.7 417.3)" fill="#fff" stroke="#000" stroke-width="1.4"/>
<ellipse cx="1023.5" cy="416.9" rx="11" ry="6.1" transform="rotate(60 1023.5 416.9)" fill="none" stroke="#000" stroke-width="1.0"/>
<path d="M1006.4 428.3 L1026 417" fill="none" stroke="#000" stroke-width="0.9"/>
<path d="M1069.1 276.2 L1097.9 351.5" fill="none" stroke="#000" stroke-width="1.0"/>
<circle cx="1069.1" cy="276.2" r="3.2" fill="#000"/>
<text x="1061.20" y="268.4" font-family="Liberation Sans" font-weight="normal" font-size="24.20" fill="#000" transform="translate(1061.20 0) scale(0.933 1) translate(-1061.20 0)">A</text>
<path d="M135.7 930.1 L170.2 910.6" fill="none" stroke="#000" stroke-width="1.0"/>
<path d="M192.2 897.1 L221.9 880.9" fill="none" stroke="#000" stroke-width="1.0"/>
<path d="M259.3 857.3 L345 809" fill="none" stroke="#000" stroke-width="1.0"/>
<path d="M212.7 832.2 L214.8 831.2 L217.2 830.7 L219.8 830.7 L222.5 831.1 L225.4 832 L228.4 833.3 L231.4 835 L234.5 837.1 L237.7 839.7 L240.8 842.5 L243.8 845.7 L246.8 849.2 L249.6 852.9 L252.3 856.9 L254.8 861 L257.1 865.2 L259.2 869.5 L261 873.8 L262.5 878.1 L263.8 882.4 L264.7 886.5 L265.3 890.5 L265.6 894.2 L265.6 897.7 L265.2 901 L264.5 903.9 L263.5 906.5 L262.2 908.7 L260.6 910.5 L258.7 911.8 L244 920.3 L241.9 921.3 L239.5 921.8 L237 921.8 L234.2 921.4 L231.4 920.5 L228.4 919.2 L225.3 917.5 L222.2 915.4 L219 912.8 L215.9 910 L212.9 906.8 L209.9 903.3 L207.1 899.6 L204.4 895.6 L201.9 891.5 L199.6 887.3 L197.5 883 L195.7 878.7 L194.2 874.4 L192.9 870.1 L192 866 L191.4 862 L191.1 858.3 L191.2 854.8 L191.5 851.5 L192.2 848.6 L193.2 846 L194.5 843.8 L196.1 842 L198 840.7Z" fill="#fff" stroke="#000" stroke-width="1.5"/>
<ellipse cx="221" cy="880.5" rx="46" ry="22.1" transform="rotate(60 221 880.5)" fill="#fff" stroke="#000" stroke-width="1.5"/>
<ellipse cx="221" cy="880.5" rx="39.6" ry="19" transform="rotate(60 221 880.5)" fill="none" stroke="#000" stroke-width="1.0"/>
<ellipse cx="221.5" cy="880.5" rx="36.8" ry="17.7" transform="rotate(60 221.5 880.5)" fill="none" stroke="#000" stroke-width="0.9"/>
<ellipse cx="221" cy="880.5" rx="28.5" ry="13.7" transform="rotate(60 221 880.5)" fill="none" stroke="#000" stroke-width="1.0"/>
<ellipse cx="221" cy="880.5" rx="23" ry="11" transform="rotate(60 221 880.5)" fill="none" stroke="#000" stroke-width="1.1"/>
<path d="M204.6 883.3 L202.1 883.8" fill="none" stroke="#000" stroke-width="0.9"/>
<path d="M199.8 859.6 L196.5 856.4" fill="none" stroke="#000" stroke-width="0.9"/>
<path d="M210.1 850.8 L208.5 846.3" fill="none" stroke="#000" stroke-width="0.9"/>
<path d="M228.3 863.2 L229.4 860.6" fill="none" stroke="#000" stroke-width="0.9"/>
<path d="M241.2 888 L244.3 889.1" fill="none" stroke="#000" stroke-width="0.9"/>
<path d="M239.7 907.4 L242.6 911.5" fill="none" stroke="#000" stroke-width="0.9"/>
<path d="M224.8 907.6 L225.4 911.7" fill="none" stroke="#000" stroke-width="0.9"/>
<ellipse cx="234.3" cy="872.9" rx="23" ry="11" transform="rotate(60 234.3 872.9)" fill="none" stroke="#000" stroke-width="0.9"/>
<path d="M162.3 878.5 L163.5 878 L164.9 877.8 L166.4 877.8 L168 878.2 L169.7 878.9 L171.5 879.8 L173.4 881 L175.3 882.4 L177.3 884.1 L179.2 886.1 L181.1 888.2 L183 890.5 L184.8 892.9 L186.5 895.5 L188.2 898.2 L189.7 901 L191.1 903.7 L192.3 906.5 L193.3 909.3 L194.2 912 L194.9 914.7 L195.4 917.2 L195.7 919.6 L195.8 921.8 L195.7 923.9 L195.4 925.7 L194.9 927.3 L194.2 928.6 L193.3 929.7 L192.3 930.5 L181 937 L179.8 937.5 L178.4 937.7 L176.9 937.7 L175.3 937.3 L173.5 936.6 L171.7 935.7 L169.8 934.5 L167.9 933.1 L166 931.4 L164.1 929.4 L162.1 927.3 L160.3 925 L158.4 922.6 L156.7 920 L155.1 917.3 L153.6 914.5 L152.2 911.8 L151 909 L149.9 906.2 L149.1 903.5 L148.4 900.8 L147.9 898.3 L147.6 895.9 L147.5 893.7 L147.6 891.6 L147.9 889.8 L148.4 888.2 L149.1 886.9 L149.9 885.8 L151 885Z" fill="#fff" stroke="#000" stroke-width="1.4"/>
<ellipse cx="166" cy="911" rx="30" ry="12.6" transform="rotate(60 166 911)" fill="#fff" stroke="#000" stroke-width="1.4"/>
<ellipse cx="166" cy="911" rx="24" ry="10.1" transform="rotate(60 166 911)" fill="none" stroke="#000" stroke-width="1.0"/>
<ellipse cx="166" cy="911" rx="21" ry="8.8" transform="rotate(60 166 911)" fill="none" stroke="#000" stroke-width="1.0"/>
<ellipse cx="166" cy="911" rx="18" ry="7.6" transform="rotate(60 166 911)" fill="none" stroke="#000" stroke-width="1.0"/>
<path d="M135.7 930.1 L166 912" fill="none" stroke="#000" stroke-width="1.0"/>
<path d="M221 880.5 L199 893" fill="none" stroke="#000" stroke-width="1.0"/>
<text x="154.67" y="774.1" font-family="Liberation Sans" font-weight="normal" font-size="26.86" fill="#000" transform="translate(154.67 0) scale(1.056 1) translate(-154.67 0)">040</text>
<text x="78.98" y="817.6" font-family="Liberation Sans" font-weight="normal" font-size="27.29" fill="#000" transform="translate(78.98 0) scale(1.030 1) translate(-78.98 0)">030</text>
<path d="M182.7 780.2 L211.4 833.9" fill="none" stroke="#000" stroke-width="1.0"/>
<path d="M105 822.8 L157.7 884.7" fill="none" stroke="#000" stroke-width="1.0"/>
<text x="829.45" y="840" font-family="Liberation Sans" font-weight="normal" font-size="21.74" fill="#000" transform="translate(829.45 0) scale(0.834 1) translate(-829.45 0)">Fig.No.</text>
<text x="829.04" y="865.8" font-family="Liberation Sans" font-weight="normal" font-size="22.57" fill="#000" transform="translate(829.04 0) scale(0.847 1) translate(-829.04 0)">C140XX</text>
<text x="1074.66" y="845" font-family="Liberation Sans" font-weight="normal" font-size="26.71" fill="#000" transform="translate(1074.66 0) scale(1.064 1) translate(-1074.66 0)">010</text>
<path d="M1123.6 835.5 L1140.8 835.5" fill="none" stroke="#000" stroke-width="1.2"/>
<path d="M1166 778.6 L1140.8 793.2 L1140.8 874.6 L1166 890" fill="none" stroke="#000" stroke-width="1.4" stroke-dasharray="8 4"/>
<text x="1153.30" y="815.7" font-family="Liberation Sans" font-weight="normal" font-size="27.10" fill="#000" transform="translate(1153.30 0) scale(0.788 1) translate(-1153.30 0)">A</text>
<text x="1151.98" y="871.5" font-family="Liberation Sans" font-weight="normal" font-size="26.81" fill="#000" transform="translate(1151.98 0) scale(0.943 1) translate(-1151.98 0)">B</text>
<circle cx="1160.7" cy="835.6" r="1.7" fill="#000"/>
<g opacity="0.36">
<circle cx="186" cy="133.5" r="98.5" fill="rgb(250,190,0)"/>
<g fill="none" stroke="rgb(6,14,152)" stroke-width="2.4" stroke-linecap="round" stroke-linejoin="round">
<path d="M145.3 77.5 L145.3 81.5 L151.5 81.5 L151.5 106.5 C144 106.8 137 108 130 112 C125 115 122.5 119 121.5 124"/>
<path d="M145.3 77.5 C152 75.5 165 74.5 183.8 75.6 L189.6 107.2 L193.5 107.2"/>
<path d="M197.4 102.2 L213 103.3 L232 106.8 C236.5 108 238.8 110 239 114 L239.2 121.5"/>
<path d="M121.5 124 C119 134 120 148 128 155 C136 162 152 163 162 158 C169 154 172 147 172.5 139.2 L207.5 139.2 C208 148 213 157 222 161 C232 165 243 162 248 155 C253 147 252 133 246 127 C243 124 241 122 239.2 121.5"/>
<path d="M171.5 102 L183.2 123.4" stroke-width="1.8"/>
<path d="M147.5 135.5 C149 133 152 134 152 137 C152 141 147 143 144 140 C140 136 142 130 147 129 C154 128 158 133 158 138 C158 145 151 149 144.5 147 C138 145 136 138 137 132" stroke-width="2.2"/>
<path d="M156.5 133 L162.5 135.5" stroke-width="3"/>
<path d="M227.5 141 C229 139 231.5 140 231.5 142.5 C231.5 146 227 147.5 224.5 145 C221.5 142 223 137 227.5 136.5 C233 136 236 140 235.5 144" stroke-width="2.2"/>
<path d="M235 139.5 L240 141" stroke-width="2.8"/>
<path d="M111.3 167 C140 163 170 161.5 200 162 C230 162.5 250 166 263.6 169.2" stroke-width="1.3" stroke-dasharray="30 3 8 3 60 3 20 3 10 3"/>
</g>
<path d="M162.8 106.4 L181.4 95.3 L182.3 97.2 L170 104.5 L165.2 107.6Z" fill="rgb(6,14,152)" stroke="rgb(6,14,152)" stroke-width="1"/>
<path d="M192.8 79.5 L197.4 76 L197.4 101.5 L195.5 107.5 L192.8 107.5Z" fill="rgb(6,14,152)"/>
<text x="153.5" y="178.3" font-family="Liberation Serif" font-style="italic" font-size="11" letter-spacing="1.6" fill="rgb(6,14,152)">maykeo.vn</text>
</g>
</svg>
</body></html>
